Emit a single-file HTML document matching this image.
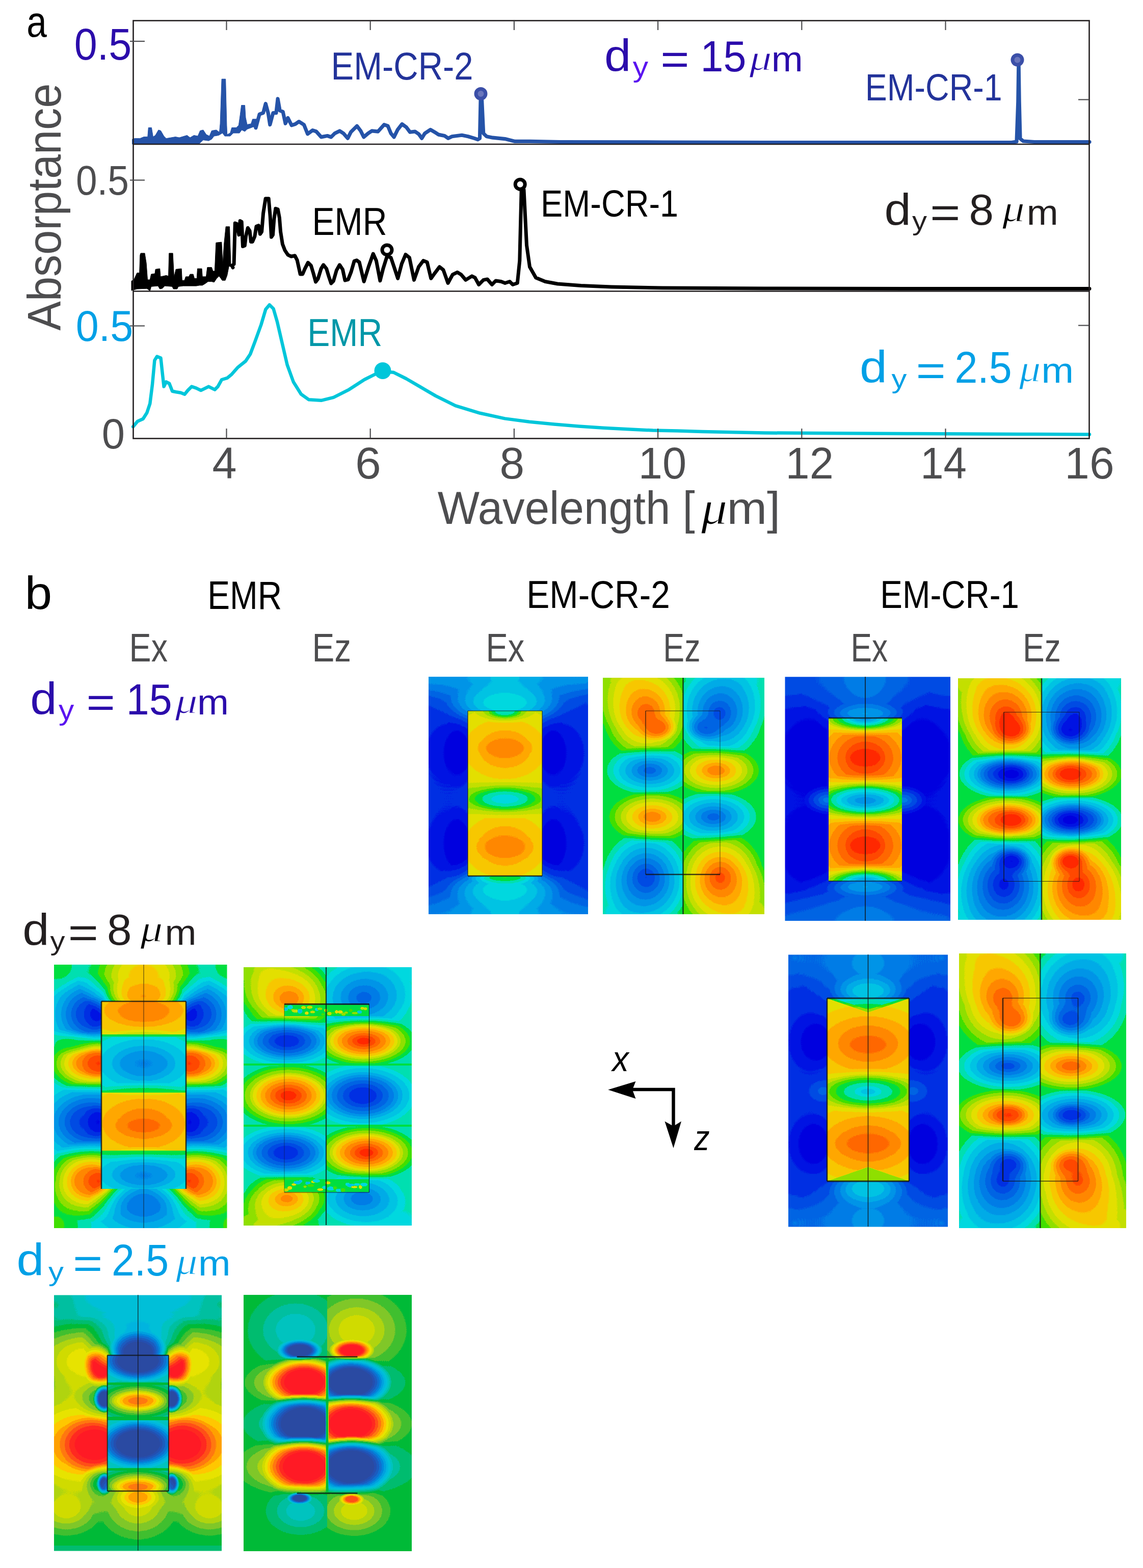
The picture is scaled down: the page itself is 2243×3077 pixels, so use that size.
<!DOCTYPE html>
<html><head><meta charset="utf-8"><style>html,body{margin:0;padding:0;background:#fff;overflow:hidden}svg{display:block}</style></head>
<body><svg width="2243" height="3077" viewBox="0 0 2243 3077">
<rect width="2243" height="3077" fill="#fff"/>
<polygon points="259.5,273.2 264.1,271.7 274.7,271.7 282.2,268.6 289.8,268.6 291.3,250.5 297.4,250.5 300.4,268.6 304.9,265.6 311.0,255.0 315.5,256.5 321.6,267.1 326.1,271.7 344.3,268.6 351.9,270.1 367.0,265.6 373.0,270.1 380.6,265.6 388.2,267.1 392.7,256.5 398.8,255.0 404.8,264.1 410.9,267.1 415.4,256.5 424.5,255.0 430.5,259.6 432.1,242.9 435.1,155.1 442.7,155.1 444.9,245.9 445.7,264.1 451.7,261.1 454.8,250.5 463.8,250.5 468.4,245.9 471.4,224.7 473.7,206.6 480.5,206.6 482.0,230.8 485.0,244.4 492.6,242.9 495.6,233.8 503.2,233.8 503.2,252.0 497.1,249.0 485.0,253.5 480.5,258.0 474.4,255.0 469.9,261.1 457.8,261.1 451.7,267.1 441.1,267.1 436.6,261.1 429.0,265.6 420.0,267.1 415.4,273.2 409.4,276.2 398.8,274.7 391.2,281.9 345.8,281.9 300.4,281.9 259.5,283.0" fill="#2553a8" stroke="#2553a8" stroke-width="1" stroke-linejoin="round"/>
<polyline points="502.0,250.8 509.2,224.1 516.5,221.7 521.3,203.5 526.2,221.7 529.8,244.7 535.9,221.7 541.9,221.7 545.1,193.8 549.2,216.9 555.2,219.3 560.1,242.3 564.9,231.4 572.2,245.9 579.5,243.5 586.7,238.6 596.4,244.7 603.7,262.9 613.4,255.6 620.6,258.0 630.3,268.9 642.4,266.5 649.7,269.0 656.9,261.7 666.6,256.9 673.9,261.7 682.4,271.4 688.4,259.3 700.5,247.2 707.8,256.9 713.8,269.0 722.3,261.7 729.6,256.9 741.7,258.1 753.8,244.7 761.1,247.2 767.1,261.7 773.2,269.0 780.4,254.4 788.9,243.5 797.4,249.6 804.6,259.3 814.3,258.1 821.6,262.9 827.7,271.4 833.7,261.7 844.6,254.4 853.1,259.3 860.3,264.1 872.4,266.5 879.7,271.4 887.0,267.7 896.7,266.5 906.3,265.3 918.5,267.7 930.6,271.4 937.8,273.8 941.5,271.4 943.1,196.3 945.6,196.3 948.7,261.7 954.8,267.7 966.9,270.2 991.1,272.6 1010.5,277.4 1040.0,277.4 1100.0,278.5 1300.0,279.0 1500.0,279.5 1700.0,279.5 1900.0,279.5 1985.0,279.5 1995.0,278.0 1997.8,200.0 1999.0,117.0 2000.2,200.0 2002.0,272.0 2008.0,277.0 2030.0,278.5 2138.0,278.5" fill="none" stroke="#2553a8" stroke-width="7.2" stroke-linejoin="round" stroke-linecap="round"/>
<polygon points="258.0,551.4 262.8,549.0 268.9,535.6 273.7,535.6 274.9,500.5 276.2,496.9 284.0,496.9 287.1,516.3 289.5,549.0 294.3,549.0 296.7,538.1 304.0,536.9 305.2,528.4 313.7,527.2 314.9,542.9 321.0,541.7 325.8,540.5 330.6,541.7 331.8,496.9 339.1,496.9 341.5,544.1 345.2,528.4 356.1,527.2 357.3,550.2 362.1,550.2 364.5,542.9 370.6,542.9 373.0,538.1 379.1,538.1 381.5,546.5 386.3,546.5 387.5,527.2 396.0,527.2 397.2,542.9 404.5,542.9 406.9,524.7 415.4,524.7 417.8,532.0 421.4,532.0 423.9,476.3 434.8,475.1 437.2,518.7 439.6,480.0 443.2,444.8 450.5,444.8 452.9,517.5 458.0,526.0 458.0,524.7 449.3,522.3 445.7,540.5 442.0,550.2 436.0,550.2 433.5,546.5 429.9,541.7 425.1,546.5 420.2,553.8 415.4,552.6 408.1,552.6 403.3,556.2 397.2,559.9 391.2,559.9 385.1,561.1 367.0,561.1 359.7,561.1 350.0,562.3 347.6,567.1 340.3,567.1 337.9,562.3 323.4,561.1 318.5,565.9 313.7,567.1 310.1,561.1 296.7,562.3 294.3,570.8 288.3,566.2 268.9,567.1 258.0,570.1" fill="#000" stroke="#000" stroke-width="1" stroke-linejoin="round"/>
<polyline points="457.0,525.0 455.3,521.3 459.1,518.3 461.3,438.1 465.1,439.6 468.9,460.8 471.2,433.6 474.2,435.1 476.5,483.5 480.3,482.0 482.5,463.8 486.3,447.2 490.1,453.2 492.4,474.4 495.4,474.4 499.9,463.8 503.0,444.2 507.5,442.6 510.5,459.3 513.6,454.7 516.6,418.4 521.1,389.7 527.2,389.7 530.2,424.5 532.5,465.3 535.5,460.8 537.8,430.5 540.8,409.3 545.3,410.9 548.4,427.5 550.6,454.7 554.4,479.0 559.0,491.1 565.0,500.1 571.1,503.2 578.6,501.7 583.2,510.7 589.2,538.0 593.8,538.0 598.3,527.4 604.4,515.3 610.4,521.3 615.0,536.5 619.5,553.1 624.0,547.1 630.1,527.4 634.6,519.8 640.7,527.4 645.2,542.5 649.8,556.1 654.3,551.6 660.4,530.4 666.4,519.8 672.5,528.9 677.0,550.1 683.1,548.6 689.1,533.4 695.2,512.3 700.0,510.7 705.1,514.6 714.2,552.5 723.2,523.7 732.3,498.0 738.4,511.6 745.9,550.9 752.0,526.7 759.6,502.5 767.1,505.5 773.2,523.7 780.7,546.4 788.3,517.7 795.9,499.5 803.4,505.5 812.5,549.4 821.6,523.7 830.7,511.6 838.2,514.6 845.8,546.4 853.4,535.8 862.5,523.7 870.0,529.8 879.1,555.5 888.2,538.8 897.3,534.3 904.8,538.8 913.9,549.4 926.0,541.9 932.1,544.9 939.6,558.5 948.7,549.4 956.3,547.9 965.4,558.5 972.9,550.9 983.5,552.5 991.1,555.5 1000.2,552.5 1006.2,558.5 1015.3,555.5 1019.8,511.6 1023.2,372.4 1028.0,372.4 1033.5,481.3 1039.5,523.7 1051.6,544.9 1069.8,552.5 1094.0,557.0 1140.0,560.6 1200.0,563.0 1300.0,565.0 1500.0,566.0 1800.0,566.5 2138.0,566.5" fill="none" stroke="#000" stroke-width="7" stroke-linejoin="round" stroke-linecap="round"/>
<polyline points="261.1,837.3 270.1,826.7 280.7,822.1 288.3,810.0 294.3,791.9 298.9,755.5 303.4,707.1 308.0,699.6 315.5,702.6 318.6,731.3 321.6,758.6 326.1,749.5 332.2,752.5 338.2,767.7 345.8,769.2 354.9,770.7 362.4,773.7 368.5,766.1 376.1,758.6 385.1,761.6 394.2,766.1 403.3,761.6 409.4,758.6 415.4,761.6 421.5,764.6 427.5,758.6 435.1,745.0 445.7,741.9 454.8,734.4 466.9,720.7 482.0,708.6 491.1,695.0 500.2,670.8 512.3,637.5 521.3,607.2 528.9,598.2 536.5,605.7 544.0,631.5 553.1,670.8 563.7,716.2 575.8,749.5 591.0,773.7 606.1,784.3 630.3,785.8 654.5,779.8 684.8,764.6 715.0,745.0 736.2,734.4 743.6,728.4 772.6,730.8 796.9,743.0 825.9,759.9 855.0,776.9 893.7,796.2 942.1,810.8 990.6,821.4 1039.0,827.7 1087.4,832.5 1135.8,836.4 1184.3,839.8 1232.7,842.2 1281.1,844.6 1329.5,845.6 1378.0,847.1 1426.4,848.0 1500.0,849.5 1600.0,850.0 1800.0,851.0 2000.0,852.0 2138.0,852.5" fill="none" stroke="#00c6da" stroke-width="6.5" stroke-linejoin="round" stroke-linecap="round"/>
<circle cx="943.5" cy="184.0" r="9.5" fill="#6a76bc" stroke="#3b4fa8" stroke-width="7"/>
<circle cx="1996.5" cy="117.5" r="9.5" fill="#6a76bc" stroke="#3b4fa8" stroke-width="7"/>
<circle cx="759.5" cy="490.4" r="9.5" fill="#fff" stroke="#000" stroke-width="7"/>
<circle cx="1020.7" cy="361.8" r="9.5" fill="#fff" stroke="#000" stroke-width="7"/>
<circle cx="751" cy="727.5" r="16.5" fill="#00c6da"/>
<g stroke="#231f20" stroke-width="2.6" fill="none">
<rect x="261.5" y="40.5" width="1876" height="820"/>
<line x1="261.5" y1="283" x2="2137.5" y2="283"/><line x1="261.5" y1="571.5" x2="2137.5" y2="571.5"/>
</g>
<g stroke="#4d4d4f" stroke-width="2.2">
<line x1="444.5" y1="41" x2="444.5" y2="59"/>
<line x1="444.5" y1="860" x2="444.5" y2="841"/>
<line x1="726.7" y1="41" x2="726.7" y2="59"/>
<line x1="726.7" y1="860" x2="726.7" y2="841"/>
<line x1="1008.9" y1="41" x2="1008.9" y2="59"/>
<line x1="1008.9" y1="860" x2="1008.9" y2="841"/>
<line x1="1291.1" y1="41" x2="1291.1" y2="59"/>
<line x1="1291.1" y1="860" x2="1291.1" y2="841"/>
<line x1="1573.3" y1="41" x2="1573.3" y2="59"/>
<line x1="1573.3" y1="860" x2="1573.3" y2="841"/>
<line x1="1855.5" y1="41" x2="1855.5" y2="59"/>
<line x1="1855.5" y1="860" x2="1855.5" y2="841"/>
<line x1="255" y1="81.0" x2="284" y2="81.0"/>
<line x1="255" y1="353.5" x2="284" y2="353.5"/>
<line x1="255" y1="639.5" x2="284" y2="639.5"/>
<line x1="2116" y1="195.5" x2="2137" y2="195.5"/>
<line x1="2116" y1="638.6" x2="2137" y2="638.6"/>
</g>
<text transform="translate(119 648.7) rotate(-90) scale(0.931 1)" font-family="Liberation Sans" font-size="92.8" fill="#4d4d4f">Absorptance</text>
<defs><filter id="cmA" color-interpolation-filters="sRGB" x="0" y="0" width="1" height="1"><feComponentTransfer><feFuncR type="discrete" tableValues="0.0000 0.0000 0.0000 0.0000 0.0000 0.0000 0.0000 0.0000 0.0000 0.0000 0.0000 0.0000 0.0000 0.2510 0.5647 0.7686 0.8941 0.9725 1.0000 1.0000 1.0000 1.0000 1.0000 0.9412"/><feFuncG type="discrete" tableValues="0.0000 0.0000 0.0784 0.1882 0.2980 0.3922 0.4863 0.5804 0.6745 0.7686 0.8471 0.8784 0.8706 0.8784 0.8784 0.8784 0.8784 0.7843 0.6588 0.5333 0.4078 0.2824 0.1569 0.0627"/><feFuncB type="discrete" tableValues="0.7843 0.8784 0.8941 0.8941 0.8941 0.8941 0.9020 0.9098 0.9098 0.8941 0.8784 0.6902 0.2510 0.0000 0.0000 0.0000 0.0000 0.0000 0.0000 0.0000 0.0000 0.0000 0.0000 0.0627"/></feComponentTransfer></filter><filter id="cmB" color-interpolation-filters="sRGB" x="0" y="0" width="1" height="1"><feComponentTransfer><feFuncR type="discrete" tableValues="0.1686 0.1686 0.1412 0.1098 0.0627 0.0000 0.0000 0.0000 0.0000 0.0000 0.0000 0.0000 0.0000 0.2510 0.5020 0.6902 0.8157 0.9098 1.0000 1.0000 1.0000 1.0000 1.0000 1.0000"/><feFuncG type="discrete" tableValues="0.2902 0.2902 0.3137 0.3608 0.4392 0.5333 0.6275 0.7059 0.7529 0.7686 0.7529 0.7373 0.7333 0.7529 0.7843 0.8314 0.8627 0.8941 0.7843 0.6275 0.4706 0.3137 0.1647 0.1020"/><feFuncB type="discrete" tableValues="0.6392 0.6392 0.6902 0.7529 0.8157 0.8627 0.8784 0.8784 0.8471 0.7529 0.6275 0.4392 0.2196 0.1882 0.1569 0.0627 0.0000 0.0000 0.0000 0.0000 0.0627 0.0941 0.1255 0.1451"/></feComponentTransfer></filter><radialGradient id="b80"><stop offset="0" stop-color="rgb(80,80,80)" stop-opacity="1"/><stop offset="0.12" stop-color="rgb(80,80,80)" stop-opacity="0.94"/><stop offset="1" stop-color="rgb(80,80,80)" stop-opacity="0"/></radialGradient><radialGradient id="b69"><stop offset="0" stop-color="rgb(69,69,69)" stop-opacity="1"/><stop offset="0.12" stop-color="rgb(69,69,69)" stop-opacity="0.94"/><stop offset="1" stop-color="rgb(69,69,69)" stop-opacity="0"/></radialGradient><radialGradient id="s27"><stop offset="0" stop-color="rgb(27,27,27)" stop-opacity="1"/><stop offset="0.3" stop-color="rgb(27,27,27)" stop-opacity="0.9"/><stop offset="0.7" stop-color="rgb(27,27,27)" stop-opacity="0.35"/><stop offset="1" stop-color="rgb(27,27,27)" stop-opacity="0"/></radialGradient><radialGradient id="s11"><stop offset="0" stop-color="rgb(11,11,11)" stop-opacity="1"/><stop offset="0.3" stop-color="rgb(11,11,11)" stop-opacity="0.9"/><stop offset="0.7" stop-color="rgb(11,11,11)" stop-opacity="0.35"/><stop offset="1" stop-color="rgb(11,11,11)" stop-opacity="0"/></radialGradient><radialGradient id="b101"><stop offset="0" stop-color="rgb(101,101,101)" stop-opacity="1"/><stop offset="0.12" stop-color="rgb(101,101,101)" stop-opacity="0.94"/><stop offset="1" stop-color="rgb(101,101,101)" stop-opacity="0"/></radialGradient><radialGradient id="s114"><stop offset="0" stop-color="rgb(114,114,114)" stop-opacity="1"/><stop offset="0.3" stop-color="rgb(114,114,114)" stop-opacity="0.9"/><stop offset="0.7" stop-color="rgb(114,114,114)" stop-opacity="0.35"/><stop offset="1" stop-color="rgb(114,114,114)" stop-opacity="0"/></radialGradient><radialGradient id="s139"><stop offset="0" stop-color="rgb(139,139,139)" stop-opacity="1"/><stop offset="0.3" stop-color="rgb(139,139,139)" stop-opacity="0.9"/><stop offset="0.7" stop-color="rgb(139,139,139)" stop-opacity="0.35"/><stop offset="1" stop-color="rgb(139,139,139)" stop-opacity="0"/></radialGradient><radialGradient id="s199"><stop offset="0" stop-color="rgb(199,199,199)" stop-opacity="1"/><stop offset="0.3" stop-color="rgb(199,199,199)" stop-opacity="0.9"/><stop offset="0.7" stop-color="rgb(199,199,199)" stop-opacity="0.35"/><stop offset="1" stop-color="rgb(199,199,199)" stop-opacity="0"/></radialGradient><radialGradient id="s210"><stop offset="0" stop-color="rgb(210,210,210)" stop-opacity="1"/><stop offset="0.3" stop-color="rgb(210,210,210)" stop-opacity="0.9"/><stop offset="0.7" stop-color="rgb(210,210,210)" stop-opacity="0.35"/><stop offset="1" stop-color="rgb(210,210,210)" stop-opacity="0"/></radialGradient><radialGradient id="s136"><stop offset="0" stop-color="rgb(136,136,136)" stop-opacity="1"/><stop offset="0.3" stop-color="rgb(136,136,136)" stop-opacity="0.9"/><stop offset="0.7" stop-color="rgb(136,136,136)" stop-opacity="0.35"/><stop offset="1" stop-color="rgb(136,136,136)" stop-opacity="0"/></radialGradient><radialGradient id="s112"><stop offset="0" stop-color="rgb(112,112,112)" stop-opacity="1"/><stop offset="0.3" stop-color="rgb(112,112,112)" stop-opacity="0.9"/><stop offset="0.7" stop-color="rgb(112,112,112)" stop-opacity="0.35"/><stop offset="1" stop-color="rgb(112,112,112)" stop-opacity="0"/></radialGradient><radialGradient id="s137"><stop offset="0" stop-color="rgb(137,137,137)" stop-opacity="1"/><stop offset="0.3" stop-color="rgb(137,137,137)" stop-opacity="0.9"/><stop offset="0.7" stop-color="rgb(137,137,137)" stop-opacity="0.35"/><stop offset="1" stop-color="rgb(137,137,137)" stop-opacity="0"/></radialGradient><radialGradient id="s117"><stop offset="0" stop-color="rgb(117,117,117)" stop-opacity="1"/><stop offset="0.3" stop-color="rgb(117,117,117)" stop-opacity="0.9"/><stop offset="0.7" stop-color="rgb(117,117,117)" stop-opacity="0.35"/><stop offset="1" stop-color="rgb(117,117,117)" stop-opacity="0"/></radialGradient><radialGradient id="b165"><stop offset="0" stop-color="rgb(165,165,165)" stop-opacity="1"/><stop offset="0.12" stop-color="rgb(165,165,165)" stop-opacity="0.94"/><stop offset="1" stop-color="rgb(165,165,165)" stop-opacity="0"/></radialGradient><radialGradient id="b112"><stop offset="0" stop-color="rgb(112,112,112)" stop-opacity="1"/><stop offset="0.12" stop-color="rgb(112,112,112)" stop-opacity="0.94"/><stop offset="1" stop-color="rgb(112,112,112)" stop-opacity="0"/></radialGradient><radialGradient id="b223"><stop offset="0" stop-color="rgb(223,223,223)" stop-opacity="1"/><stop offset="0.12" stop-color="rgb(223,223,223)" stop-opacity="0.94"/><stop offset="1" stop-color="rgb(223,223,223)" stop-opacity="0"/></radialGradient><radialGradient id="s223"><stop offset="0" stop-color="rgb(223,223,223)" stop-opacity="1"/><stop offset="0.3" stop-color="rgb(223,223,223)" stop-opacity="0.9"/><stop offset="0.7" stop-color="rgb(223,223,223)" stop-opacity="0.35"/><stop offset="1" stop-color="rgb(223,223,223)" stop-opacity="0"/></radialGradient><radialGradient id="b42"><stop offset="0" stop-color="rgb(42,42,42)" stop-opacity="1"/><stop offset="0.12" stop-color="rgb(42,42,42)" stop-opacity="0.94"/><stop offset="1" stop-color="rgb(42,42,42)" stop-opacity="0"/></radialGradient><radialGradient id="b58"><stop offset="0" stop-color="rgb(58,58,58)" stop-opacity="1"/><stop offset="0.12" stop-color="rgb(58,58,58)" stop-opacity="0.94"/><stop offset="1" stop-color="rgb(58,58,58)" stop-opacity="0"/></radialGradient><radialGradient id="b212"><stop offset="0" stop-color="rgb(212,212,212)" stop-opacity="1"/><stop offset="0.12" stop-color="rgb(212,212,212)" stop-opacity="0.94"/><stop offset="1" stop-color="rgb(212,212,212)" stop-opacity="0"/></radialGradient><radialGradient id="b170"><stop offset="0" stop-color="rgb(170,170,170)" stop-opacity="1"/><stop offset="0.12" stop-color="rgb(170,170,170)" stop-opacity="0.94"/><stop offset="1" stop-color="rgb(170,170,170)" stop-opacity="0"/></radialGradient><radialGradient id="b48"><stop offset="0" stop-color="rgb(48,48,48)" stop-opacity="1"/><stop offset="0.12" stop-color="rgb(48,48,48)" stop-opacity="0.94"/><stop offset="1" stop-color="rgb(48,48,48)" stop-opacity="0"/></radialGradient><radialGradient id="s53"><stop offset="0" stop-color="rgb(53,53,53)" stop-opacity="1"/><stop offset="0.3" stop-color="rgb(53,53,53)" stop-opacity="0.9"/><stop offset="0.7" stop-color="rgb(53,53,53)" stop-opacity="0.35"/><stop offset="1" stop-color="rgb(53,53,53)" stop-opacity="0"/></radialGradient><radialGradient id="b228"><stop offset="0" stop-color="rgb(228,228,228)" stop-opacity="1"/><stop offset="0.12" stop-color="rgb(228,228,228)" stop-opacity="0.94"/><stop offset="1" stop-color="rgb(228,228,228)" stop-opacity="0"/></radialGradient><radialGradient id="s18"><stop offset="0" stop-color="rgb(18,18,18)" stop-opacity="1"/><stop offset="0.3" stop-color="rgb(18,18,18)" stop-opacity="0.9"/><stop offset="0.7" stop-color="rgb(18,18,18)" stop-opacity="0.35"/><stop offset="1" stop-color="rgb(18,18,18)" stop-opacity="0"/></radialGradient><radialGradient id="b53"><stop offset="0" stop-color="rgb(53,53,53)" stop-opacity="1"/><stop offset="0.12" stop-color="rgb(53,53,53)" stop-opacity="0.94"/><stop offset="1" stop-color="rgb(53,53,53)" stop-opacity="0"/></radialGradient><radialGradient id="b74"><stop offset="0" stop-color="rgb(74,74,74)" stop-opacity="1"/><stop offset="0.12" stop-color="rgb(74,74,74)" stop-opacity="0.94"/><stop offset="1" stop-color="rgb(74,74,74)" stop-opacity="0"/></radialGradient><radialGradient id="s85"><stop offset="0" stop-color="rgb(85,85,85)" stop-opacity="1"/><stop offset="0.3" stop-color="rgb(85,85,85)" stop-opacity="0.9"/><stop offset="0.7" stop-color="rgb(85,85,85)" stop-opacity="0.35"/><stop offset="1" stop-color="rgb(85,85,85)" stop-opacity="0"/></radialGradient><radialGradient id="s234"><stop offset="0" stop-color="rgb(234,234,234)" stop-opacity="1"/><stop offset="0.3" stop-color="rgb(234,234,234)" stop-opacity="0.9"/><stop offset="0.7" stop-color="rgb(234,234,234)" stop-opacity="0.35"/><stop offset="1" stop-color="rgb(234,234,234)" stop-opacity="0"/></radialGradient><radialGradient id="s244"><stop offset="0" stop-color="rgb(244,244,244)" stop-opacity="1"/><stop offset="0.3" stop-color="rgb(244,244,244)" stop-opacity="0.9"/><stop offset="0.7" stop-color="rgb(244,244,244)" stop-opacity="0.35"/><stop offset="1" stop-color="rgb(244,244,244)" stop-opacity="0"/></radialGradient><radialGradient id="s96"><stop offset="0" stop-color="rgb(96,96,96)" stop-opacity="1"/><stop offset="0.3" stop-color="rgb(96,96,96)" stop-opacity="0.9"/><stop offset="0.7" stop-color="rgb(96,96,96)" stop-opacity="0.35"/><stop offset="1" stop-color="rgb(96,96,96)" stop-opacity="0"/></radialGradient><radialGradient id="s80"><stop offset="0" stop-color="rgb(80,80,80)" stop-opacity="1"/><stop offset="0.3" stop-color="rgb(80,80,80)" stop-opacity="0.9"/><stop offset="0.7" stop-color="rgb(80,80,80)" stop-opacity="0.35"/><stop offset="1" stop-color="rgb(80,80,80)" stop-opacity="0"/></radialGradient><radialGradient id="s106"><stop offset="0" stop-color="rgb(106,106,106)" stop-opacity="1"/><stop offset="0.3" stop-color="rgb(106,106,106)" stop-opacity="0.9"/><stop offset="0.7" stop-color="rgb(106,106,106)" stop-opacity="0.35"/><stop offset="1" stop-color="rgb(106,106,106)" stop-opacity="0"/></radialGradient><radialGradient id="b239"><stop offset="0" stop-color="rgb(239,239,239)" stop-opacity="1"/><stop offset="0.12" stop-color="rgb(239,239,239)" stop-opacity="0.94"/><stop offset="1" stop-color="rgb(239,239,239)" stop-opacity="0"/></radialGradient><radialGradient id="b27"><stop offset="0" stop-color="rgb(27,27,27)" stop-opacity="1"/><stop offset="0.12" stop-color="rgb(27,27,27)" stop-opacity="0.94"/><stop offset="1" stop-color="rgb(27,27,27)" stop-opacity="0"/></radialGradient><radialGradient id="s21"><stop offset="0" stop-color="rgb(21,21,21)" stop-opacity="1"/><stop offset="0.3" stop-color="rgb(21,21,21)" stop-opacity="0.9"/><stop offset="0.7" stop-color="rgb(21,21,21)" stop-opacity="0.35"/><stop offset="1" stop-color="rgb(21,21,21)" stop-opacity="0"/></radialGradient><radialGradient id="s37"><stop offset="0" stop-color="rgb(37,37,37)" stop-opacity="1"/><stop offset="0.3" stop-color="rgb(37,37,37)" stop-opacity="0.9"/><stop offset="0.7" stop-color="rgb(37,37,37)" stop-opacity="0.35"/><stop offset="1" stop-color="rgb(37,37,37)" stop-opacity="0"/></radialGradient><radialGradient id="s16"><stop offset="0" stop-color="rgb(16,16,16)" stop-opacity="1"/><stop offset="0.3" stop-color="rgb(16,16,16)" stop-opacity="0.9"/><stop offset="0.7" stop-color="rgb(16,16,16)" stop-opacity="0.35"/><stop offset="1" stop-color="rgb(16,16,16)" stop-opacity="0"/></radialGradient><radialGradient id="b175"><stop offset="0" stop-color="rgb(175,175,175)" stop-opacity="1"/><stop offset="0.12" stop-color="rgb(175,175,175)" stop-opacity="0.94"/><stop offset="1" stop-color="rgb(175,175,175)" stop-opacity="0"/></radialGradient><radialGradient id="b138"><stop offset="0" stop-color="rgb(138,138,138)" stop-opacity="1"/><stop offset="0.12" stop-color="rgb(138,138,138)" stop-opacity="0.94"/><stop offset="1" stop-color="rgb(138,138,138)" stop-opacity="0"/></radialGradient><radialGradient id="b143"><stop offset="0" stop-color="rgb(143,143,143)" stop-opacity="1"/><stop offset="0.12" stop-color="rgb(143,143,143)" stop-opacity="0.94"/><stop offset="1" stop-color="rgb(143,143,143)" stop-opacity="0"/></radialGradient><radialGradient id="s42"><stop offset="0" stop-color="rgb(42,42,42)" stop-opacity="1"/><stop offset="0.3" stop-color="rgb(42,42,42)" stop-opacity="0.9"/><stop offset="0.7" stop-color="rgb(42,42,42)" stop-opacity="0.35"/><stop offset="1" stop-color="rgb(42,42,42)" stop-opacity="0"/></radialGradient><radialGradient id="s218"><stop offset="0" stop-color="rgb(218,218,218)" stop-opacity="1"/><stop offset="0.3" stop-color="rgb(218,218,218)" stop-opacity="0.9"/><stop offset="0.7" stop-color="rgb(218,218,218)" stop-opacity="0.35"/><stop offset="1" stop-color="rgb(218,218,218)" stop-opacity="0"/></radialGradient><radialGradient id="b133"><stop offset="0" stop-color="rgb(133,133,133)" stop-opacity="1"/><stop offset="0.12" stop-color="rgb(133,133,133)" stop-opacity="0.94"/><stop offset="1" stop-color="rgb(133,133,133)" stop-opacity="0"/></radialGradient><radialGradient id="s186"><stop offset="0" stop-color="rgb(186,186,186)" stop-opacity="1"/><stop offset="0.3" stop-color="rgb(186,186,186)" stop-opacity="0.9"/><stop offset="0.7" stop-color="rgb(186,186,186)" stop-opacity="0.35"/><stop offset="1" stop-color="rgb(186,186,186)" stop-opacity="0"/></radialGradient><radialGradient id="s202"><stop offset="0" stop-color="rgb(202,202,202)" stop-opacity="1"/><stop offset="0.3" stop-color="rgb(202,202,202)" stop-opacity="0.9"/><stop offset="0.7" stop-color="rgb(202,202,202)" stop-opacity="0.35"/><stop offset="1" stop-color="rgb(202,202,202)" stop-opacity="0"/></radialGradient><radialGradient id="s69"><stop offset="0" stop-color="rgb(69,69,69)" stop-opacity="1"/><stop offset="0.3" stop-color="rgb(69,69,69)" stop-opacity="0.9"/><stop offset="0.7" stop-color="rgb(69,69,69)" stop-opacity="0.35"/><stop offset="1" stop-color="rgb(69,69,69)" stop-opacity="0"/></radialGradient><radialGradient id="s205"><stop offset="0" stop-color="rgb(205,205,205)" stop-opacity="1"/><stop offset="0.3" stop-color="rgb(205,205,205)" stop-opacity="0.9"/><stop offset="0.7" stop-color="rgb(205,205,205)" stop-opacity="0.35"/><stop offset="1" stop-color="rgb(205,205,205)" stop-opacity="0"/></radialGradient><radialGradient id="s74"><stop offset="0" stop-color="rgb(74,74,74)" stop-opacity="1"/><stop offset="0.3" stop-color="rgb(74,74,74)" stop-opacity="0.9"/><stop offset="0.7" stop-color="rgb(74,74,74)" stop-opacity="0.35"/><stop offset="1" stop-color="rgb(74,74,74)" stop-opacity="0"/></radialGradient><radialGradient id="s207"><stop offset="0" stop-color="rgb(207,207,207)" stop-opacity="1"/><stop offset="0.3" stop-color="rgb(207,207,207)" stop-opacity="0.9"/><stop offset="0.7" stop-color="rgb(207,207,207)" stop-opacity="0.35"/><stop offset="1" stop-color="rgb(207,207,207)" stop-opacity="0"/></radialGradient><radialGradient id="b207"><stop offset="0" stop-color="rgb(207,207,207)" stop-opacity="1"/><stop offset="0.12" stop-color="rgb(207,207,207)" stop-opacity="0.94"/><stop offset="1" stop-color="rgb(207,207,207)" stop-opacity="0"/></radialGradient><radialGradient id="b37"><stop offset="0" stop-color="rgb(37,37,37)" stop-opacity="1"/><stop offset="0.12" stop-color="rgb(37,37,37)" stop-opacity="0.94"/><stop offset="1" stop-color="rgb(37,37,37)" stop-opacity="0"/></radialGradient><radialGradient id="s48"><stop offset="0" stop-color="rgb(48,48,48)" stop-opacity="1"/><stop offset="0.3" stop-color="rgb(48,48,48)" stop-opacity="0.9"/><stop offset="0.7" stop-color="rgb(48,48,48)" stop-opacity="0.35"/><stop offset="1" stop-color="rgb(48,48,48)" stop-opacity="0"/></radialGradient><radialGradient id="s32"><stop offset="0" stop-color="rgb(32,32,32)" stop-opacity="1"/><stop offset="0.3" stop-color="rgb(32,32,32)" stop-opacity="0.9"/><stop offset="0.7" stop-color="rgb(32,32,32)" stop-opacity="0.35"/><stop offset="1" stop-color="rgb(32,32,32)" stop-opacity="0"/></radialGradient><radialGradient id="b234"><stop offset="0" stop-color="rgb(234,234,234)" stop-opacity="1"/><stop offset="0.12" stop-color="rgb(234,234,234)" stop-opacity="0.94"/><stop offset="1" stop-color="rgb(234,234,234)" stop-opacity="0"/></radialGradient><radialGradient id="s212"><stop offset="0" stop-color="rgb(212,212,212)" stop-opacity="1"/><stop offset="0.3" stop-color="rgb(212,212,212)" stop-opacity="0.9"/><stop offset="0.7" stop-color="rgb(212,212,212)" stop-opacity="0.35"/><stop offset="1" stop-color="rgb(212,212,212)" stop-opacity="0"/></radialGradient><radialGradient id="s239"><stop offset="0" stop-color="rgb(239,239,239)" stop-opacity="1"/><stop offset="0.3" stop-color="rgb(239,239,239)" stop-opacity="0.9"/><stop offset="0.7" stop-color="rgb(239,239,239)" stop-opacity="0.35"/><stop offset="1" stop-color="rgb(239,239,239)" stop-opacity="0"/></radialGradient><radialGradient id="b64"><stop offset="0" stop-color="rgb(64,64,64)" stop-opacity="1"/><stop offset="0.12" stop-color="rgb(64,64,64)" stop-opacity="0.94"/><stop offset="1" stop-color="rgb(64,64,64)" stop-opacity="0"/></radialGradient><radialGradient id="s101"><stop offset="0" stop-color="rgb(101,101,101)" stop-opacity="1"/><stop offset="0.3" stop-color="rgb(101,101,101)" stop-opacity="0.9"/><stop offset="0.7" stop-color="rgb(101,101,101)" stop-opacity="0.35"/><stop offset="1" stop-color="rgb(101,101,101)" stop-opacity="0"/></radialGradient><radialGradient id="s228"><stop offset="0" stop-color="rgb(228,228,228)" stop-opacity="1"/><stop offset="0.3" stop-color="rgb(228,228,228)" stop-opacity="0.9"/><stop offset="0.7" stop-color="rgb(228,228,228)" stop-opacity="0.35"/><stop offset="1" stop-color="rgb(228,228,228)" stop-opacity="0"/></radialGradient><radialGradient id="b90"><stop offset="0" stop-color="rgb(90,90,90)" stop-opacity="1"/><stop offset="0.12" stop-color="rgb(90,90,90)" stop-opacity="0.94"/><stop offset="1" stop-color="rgb(90,90,90)" stop-opacity="0"/></radialGradient><radialGradient id="b117"><stop offset="0" stop-color="rgb(117,117,117)" stop-opacity="1"/><stop offset="0.12" stop-color="rgb(117,117,117)" stop-opacity="0.94"/><stop offset="1" stop-color="rgb(117,117,117)" stop-opacity="0"/></radialGradient><radialGradient id="p250"><stop offset="0" stop-color="rgb(250,250,250)" stop-opacity="1"/><stop offset="0.45" stop-color="rgb(250,250,250)" stop-opacity="1"/><stop offset="0.75" stop-color="rgb(250,250,250)" stop-opacity="0.45"/><stop offset="1" stop-color="rgb(250,250,250)" stop-opacity="0"/></radialGradient><radialGradient id="p5"><stop offset="0" stop-color="rgb(5,5,5)" stop-opacity="1"/><stop offset="0.45" stop-color="rgb(5,5,5)" stop-opacity="1"/><stop offset="0.75" stop-color="rgb(5,5,5)" stop-opacity="0.45"/><stop offset="1" stop-color="rgb(5,5,5)" stop-opacity="0"/></radialGradient><radialGradient id="s122"><stop offset="0" stop-color="rgb(122,122,122)" stop-opacity="1"/><stop offset="0.3" stop-color="rgb(122,122,122)" stop-opacity="0.9"/><stop offset="0.7" stop-color="rgb(122,122,122)" stop-opacity="0.35"/><stop offset="1" stop-color="rgb(122,122,122)" stop-opacity="0"/></radialGradient><radialGradient id="s175"><stop offset="0" stop-color="rgb(175,175,175)" stop-opacity="1"/><stop offset="0.3" stop-color="rgb(175,175,175)" stop-opacity="0.9"/><stop offset="0.7" stop-color="rgb(175,175,175)" stop-opacity="0.35"/><stop offset="1" stop-color="rgb(175,175,175)" stop-opacity="0"/></radialGradient><radialGradient id="p16"><stop offset="0" stop-color="rgb(16,16,16)" stop-opacity="1"/><stop offset="0.45" stop-color="rgb(16,16,16)" stop-opacity="1"/><stop offset="0.75" stop-color="rgb(16,16,16)" stop-opacity="0.45"/><stop offset="1" stop-color="rgb(16,16,16)" stop-opacity="0"/></radialGradient><radialGradient id="p11"><stop offset="0" stop-color="rgb(11,11,11)" stop-opacity="1"/><stop offset="0.45" stop-color="rgb(11,11,11)" stop-opacity="1"/><stop offset="0.75" stop-color="rgb(11,11,11)" stop-opacity="0.45"/><stop offset="1" stop-color="rgb(11,11,11)" stop-opacity="0"/></radialGradient><radialGradient id="s191"><stop offset="0" stop-color="rgb(191,191,191)" stop-opacity="1"/><stop offset="0.3" stop-color="rgb(191,191,191)" stop-opacity="0.9"/><stop offset="0.7" stop-color="rgb(191,191,191)" stop-opacity="0.35"/><stop offset="1" stop-color="rgb(191,191,191)" stop-opacity="0"/></radialGradient><radialGradient id="p228"><stop offset="0" stop-color="rgb(228,228,228)" stop-opacity="1"/><stop offset="0.45" stop-color="rgb(228,228,228)" stop-opacity="1"/><stop offset="0.75" stop-color="rgb(228,228,228)" stop-opacity="0.45"/><stop offset="1" stop-color="rgb(228,228,228)" stop-opacity="0"/></radialGradient><clipPath id="c1"><rect x="841.0" y="1328.0" width="313.0" height="466.0"/></clipPath><clipPath id="c2"><rect x="918.0" y="1395.0" width="146.0" height="324.0"/></clipPath><clipPath id="c3"><rect x="1183.0" y="1330.0" width="317.0" height="464.0"/></clipPath><clipPath id="c4"><rect x="940.5" y="0.0" width="400.0" height="4000.0"/></clipPath><clipPath id="c5"><rect x="1340.5" y="0.0" width="400.0" height="4000.0"/></clipPath><clipPath id="c6"><rect x="1540.5" y="1328.3" width="324.5" height="478.7"/></clipPath><clipPath id="c7"><rect x="1626.0" y="1409.0" width="144.0" height="320.0"/></clipPath><clipPath id="c8"><rect x="1880.0" y="1331.5" width="320.0" height="473.5"/></clipPath><clipPath id="c9"><rect x="1644.0" y="0.0" width="400.0" height="4000.0"/></clipPath><clipPath id="c10"><rect x="2044.0" y="0.0" width="400.0" height="4000.0"/></clipPath><clipPath id="c11"><rect x="106.0" y="1893.0" width="339.5" height="517.0"/></clipPath><clipPath id="c12"><rect x="199.0" y="1965.0" width="166.0" height="368.0"/></clipPath><clipPath id="c13"><rect x="478.6" y="1898.6" width="329.1" height="505.8"/></clipPath><clipPath id="c14"><rect x="240.0" y="0.0" width="400.0" height="4000.0"/></clipPath><clipPath id="c15"><rect x="640.0" y="0.0" width="400.0" height="4000.0"/></clipPath><clipPath id="c16"><rect x="1547.0" y="1873.6" width="313.0" height="533.8"/></clipPath><clipPath id="c17"><rect x="1623.0" y="1959.0" width="161.0" height="359.0"/></clipPath><clipPath id="c18"><rect x="1882.0" y="1871.0" width="328.0" height="539.0"/></clipPath><clipPath id="c19"><rect x="1641.4" y="0.0" width="400.0" height="4000.0"/></clipPath><clipPath id="c20"><rect x="2041.4" y="0.0" width="400.0" height="4000.0"/></clipPath><clipPath id="c21"><rect x="106.0" y="2541.5" width="329.0" height="502.1"/></clipPath><clipPath id="c22"><rect x="210.7" y="2659.6" width="120.2" height="266.4"/></clipPath><clipPath id="c23"><rect x="478.6" y="2541.5" width="329.1" height="502.1"/></clipPath><clipPath id="c24"><rect x="242.0" y="0.0" width="400.0" height="4000.0"/></clipPath><clipPath id="c25"><rect x="642.0" y="0.0" width="400.0" height="4000.0"/></clipPath></defs><g clip-path="url(#c1)"><g filter="url(#cmA)"><rect x="839.0" y="1326.0" width="317.0" height="470.0" fill="rgb(48,48,48)"/><ellipse cx="845.0" cy="1328.0" rx="100.0" ry="45.0" fill="url(#b80)"/><ellipse cx="1137.0" cy="1328.0" rx="100.0" ry="45.0" fill="url(#b80)"/><ellipse cx="845.0" cy="1794.0" rx="100.0" ry="45.0" fill="url(#b69)"/><ellipse cx="1137.0" cy="1794.0" rx="100.0" ry="45.0" fill="url(#b69)"/><ellipse cx="880.0" cy="1478.0" rx="115.0" ry="150.0" fill="url(#s27)"/><ellipse cx="1102.0" cy="1478.0" rx="115.0" ry="150.0" fill="url(#s27)"/><ellipse cx="898.0" cy="1478.0" rx="40.0" ry="70.0" fill="url(#s11)"/><ellipse cx="1084.0" cy="1478.0" rx="40.0" ry="70.0" fill="url(#s11)"/><ellipse cx="880.0" cy="1655.0" rx="115.0" ry="150.0" fill="url(#s27)"/><ellipse cx="1102.0" cy="1655.0" rx="115.0" ry="150.0" fill="url(#s27)"/><ellipse cx="898.0" cy="1655.0" rx="40.0" ry="75.0" fill="url(#s11)"/><ellipse cx="1084.0" cy="1655.0" rx="40.0" ry="75.0" fill="url(#s11)"/><ellipse cx="991.0" cy="1330.0" rx="175.0" ry="115.0" fill="url(#b101)"/><ellipse cx="991.0" cy="1380.0" rx="115.0" ry="45.0" fill="url(#s114)"/><ellipse cx="991.0" cy="1790.0" rx="175.0" ry="115.0" fill="url(#b101)"/><ellipse cx="991.0" cy="1745.0" rx="115.0" ry="45.0" fill="url(#s114)"/><ellipse cx="991.0" cy="1722.0" rx="75.0" ry="14.0" fill="url(#s139)"/><g clip-path="url(#c2)"><rect x="913.0" y="1390.0" width="160.0" height="340.0" fill="rgb(165,165,165)"/><ellipse cx="991.0" cy="1470.0" rx="130.0" ry="95.0" fill="url(#s199)"/><ellipse cx="991.0" cy="1468.0" rx="55.0" ry="28.0" fill="url(#s210)"/><ellipse cx="991.0" cy="1660.0" rx="130.0" ry="100.0" fill="url(#s199)"/><ellipse cx="991.0" cy="1662.0" rx="60.0" ry="32.0" fill="url(#s210)"/><ellipse cx="991.0" cy="1568.0" rx="115.0" ry="40.0" fill="url(#s136)"/><ellipse cx="991.0" cy="1568.0" rx="75.0" ry="25.0" fill="url(#s112)"/><ellipse cx="991.0" cy="1396.0" rx="60.0" ry="24.0" fill="url(#s137)"/><ellipse cx="991.0" cy="1396.0" rx="35.0" ry="13.0" fill="url(#s117)"/></g></g></g><line x1="918.0" y1="1719.0" x2="1064.0" y2="1719.0" stroke="#111" stroke-width="2.4" stroke-opacity="0.8"/><line x1="918.0" y1="1395.0" x2="918.0" y2="1719.0" stroke="#111" stroke-width="1.2" stroke-opacity="0.8"/><line x1="1064.0" y1="1395.0" x2="1064.0" y2="1719.0" stroke="#111" stroke-width="1.2" stroke-opacity="0.8"/><line x1="918.0" y1="1395.0" x2="1064.0" y2="1395.0" stroke="#111" stroke-width="1.0" stroke-opacity="0.8"/>
<g clip-path="url(#c3)"><g filter="url(#cmA)"><rect x="1181.0" y="1328.0" width="321.0" height="468.0" fill="rgb(133,133,133)"/><g clip-path="url(#c4)"><rect x="940.5" y="1000.0" width="400.0" height="3000.0" fill="rgb(133,133,133)"/><ellipse cx="1230.0" cy="1335.0" rx="140.0" ry="95.0" fill="url(#b165)"/><ellipse cx="1225.0" cy="1790.0" rx="140.0" ry="95.0" fill="url(#b112)"/><ellipse cx="1268.0" cy="1400.0" rx="90.0" ry="95.0" fill="url(#b223)"/><ellipse cx="1290.0" cy="1428.0" rx="40.0" ry="28.0" fill="url(#s223)"/><ellipse cx="1268.0" cy="1722.0" rx="90.0" ry="95.0" fill="url(#b42)"/><ellipse cx="1275.0" cy="1512.0" rx="90.0" ry="50.0" fill="url(#b58)"/><ellipse cx="1280.0" cy="1603.0" rx="90.0" ry="52.0" fill="url(#b212)"/></g><g clip-path="url(#c5)"><rect x="1340.5" y="1000.0" width="400.0" height="3000.0" fill="rgb(133,133,133)"/><ellipse cx="1450.0" cy="1335.0" rx="140.0" ry="95.0" fill="url(#b112)"/><ellipse cx="1455.0" cy="1790.0" rx="140.0" ry="95.0" fill="url(#b170)"/><ellipse cx="1412.0" cy="1400.0" rx="90.0" ry="95.0" fill="url(#b48)"/><ellipse cx="1385.0" cy="1428.0" rx="40.0" ry="28.0" fill="url(#s53)"/><ellipse cx="1413.0" cy="1722.0" rx="90.0" ry="95.0" fill="url(#b228)"/><ellipse cx="1405.0" cy="1512.0" rx="90.0" ry="50.0" fill="url(#b212)"/><ellipse cx="1400.0" cy="1603.0" rx="90.0" ry="52.0" fill="url(#b58)"/></g></g></g><line x1="1340.5" y1="1330.0" x2="1340.5" y2="1794.0" stroke="#111" stroke-width="2.4" stroke-opacity="0.8"/><line x1="1267.0" y1="1716.0" x2="1413.0" y2="1716.0" stroke="#111" stroke-width="2.6" stroke-opacity="0.8"/><line x1="1267.0" y1="1395.0" x2="1267.0" y2="1716.0" stroke="#111" stroke-width="1.4" stroke-opacity="0.8"/><line x1="1413.0" y1="1395.0" x2="1413.0" y2="1716.0" stroke="#111" stroke-width="0.8" stroke-opacity="0.8"/><line x1="1267.0" y1="1395.0" x2="1413.0" y2="1395.0" stroke="#111" stroke-width="1.0" stroke-opacity="0.8"/>
<g clip-path="url(#c6)"><g filter="url(#cmA)"><rect x="1538.5" y="1326.3" width="328.5" height="482.7" fill="rgb(33,33,33)"/><ellipse cx="1585.0" cy="1485.0" rx="130.0" ry="150.0" fill="url(#s18)"/><ellipse cx="1811.0" cy="1485.0" rx="130.0" ry="150.0" fill="url(#s18)"/><ellipse cx="1594.0" cy="1485.0" rx="70.0" ry="85.0" fill="url(#s11)"/><ellipse cx="1802.0" cy="1485.0" rx="70.0" ry="85.0" fill="url(#s11)"/><ellipse cx="1585.0" cy="1660.0" rx="130.0" ry="150.0" fill="url(#s18)"/><ellipse cx="1811.0" cy="1660.0" rx="130.0" ry="150.0" fill="url(#s18)"/><ellipse cx="1592.0" cy="1660.0" rx="70.0" ry="85.0" fill="url(#s11)"/><ellipse cx="1804.0" cy="1660.0" rx="70.0" ry="85.0" fill="url(#s11)"/><ellipse cx="1623.0" cy="1570.0" rx="45.0" ry="28.0" fill="url(#b69)"/><ellipse cx="1773.0" cy="1570.0" rx="45.0" ry="28.0" fill="url(#b69)"/><ellipse cx="1545.0" cy="1330.0" rx="130.0" ry="70.0" fill="url(#b53)"/><ellipse cx="1861.0" cy="1330.0" rx="130.0" ry="70.0" fill="url(#b53)"/><ellipse cx="1545.0" cy="1805.0" rx="130.0" ry="60.0" fill="url(#b53)"/><ellipse cx="1861.0" cy="1805.0" rx="130.0" ry="60.0" fill="url(#b53)"/><ellipse cx="1698.0" cy="1330.0" rx="130.0" ry="130.0" fill="url(#b74)"/><ellipse cx="1698.0" cy="1400.0" rx="80.0" ry="22.0" fill="url(#s85)"/><ellipse cx="1698.0" cy="1815.0" rx="175.0" ry="120.0" fill="url(#b74)"/><ellipse cx="1698.0" cy="1740.0" rx="80.0" ry="22.0" fill="url(#s85)"/><g clip-path="url(#c7)"><rect x="1621.0" y="1404.0" width="160.0" height="340.0" fill="rgb(181,181,181)"/><ellipse cx="1698.0" cy="1487.0" rx="105.0" ry="85.0" fill="url(#s234)"/><ellipse cx="1698.0" cy="1487.0" rx="40.0" ry="22.0" fill="url(#s244)"/><ellipse cx="1698.0" cy="1659.0" rx="105.0" ry="85.0" fill="url(#s234)"/><ellipse cx="1698.0" cy="1659.0" rx="40.0" ry="22.0" fill="url(#s244)"/><ellipse cx="1698.0" cy="1570.0" rx="135.0" ry="52.0" fill="url(#s136)"/><ellipse cx="1698.0" cy="1570.0" rx="105.0" ry="38.0" fill="url(#s112)"/><ellipse cx="1698.0" cy="1570.0" rx="80.0" ry="28.0" fill="url(#s96)"/><ellipse cx="1698.0" cy="1571.0" rx="50.0" ry="16.0" fill="url(#s80)"/><ellipse cx="1698.0" cy="1408.0" rx="100.0" ry="38.0" fill="url(#s136)"/><ellipse cx="1698.0" cy="1408.0" rx="80.0" ry="28.0" fill="url(#s106)"/><ellipse cx="1698.0" cy="1408.0" rx="40.0" ry="14.0" fill="url(#s80)"/><ellipse cx="1698.0" cy="1731.0" rx="100.0" ry="38.0" fill="url(#s136)"/><ellipse cx="1698.0" cy="1731.0" rx="80.0" ry="28.0" fill="url(#s106)"/><ellipse cx="1698.0" cy="1731.0" rx="40.0" ry="14.0" fill="url(#s85)"/></g></g></g><line x1="1626.0" y1="1409.0" x2="1770.0" y2="1409.0" stroke="#111" stroke-width="2.6" stroke-opacity="0.8"/><line x1="1626.0" y1="1729.0" x2="1770.0" y2="1729.0" stroke="#111" stroke-width="1.6" stroke-opacity="0.8"/><line x1="1698.0" y1="1328.0" x2="1698.0" y2="1807.0" stroke="#111" stroke-width="1.8" stroke-opacity="0.8"/>
<g clip-path="url(#c8)"><g filter="url(#cmA)"><rect x="1878.0" y="1329.5" width="324.0" height="477.5" fill="rgb(133,133,133)"/><g clip-path="url(#c9)"><rect x="1644.0" y="1000.0" width="400.0" height="3000.0" fill="rgb(133,133,133)"/><ellipse cx="1925.0" cy="1335.0" rx="150.0" ry="110.0" fill="url(#b170)"/><ellipse cx="1920.0" cy="1800.0" rx="150.0" ry="110.0" fill="url(#b112)"/><ellipse cx="1975.0" cy="1410.0" rx="100.0" ry="105.0" fill="url(#b239)"/><ellipse cx="1985.0" cy="1432.0" rx="40.0" ry="30.0" fill="url(#s244)"/><ellipse cx="1970.0" cy="1735.0" rx="100.0" ry="115.0" fill="url(#b27)"/><ellipse cx="1985.0" cy="1690.0" rx="40.0" ry="30.0" fill="url(#s21)"/><ellipse cx="1978.0" cy="1519.0" rx="100.0" ry="50.0" fill="url(#b27)"/><ellipse cx="1980.0" cy="1519.0" rx="65.0" ry="33.0" fill="url(#s37)"/><ellipse cx="1985.0" cy="1519.0" rx="35.0" ry="20.0" fill="url(#s16)"/><ellipse cx="1976.0" cy="1609.0" rx="100.0" ry="50.0" fill="url(#b239)"/><ellipse cx="1980.0" cy="1609.0" rx="65.0" ry="33.0" fill="url(#s223)"/><ellipse cx="1985.0" cy="1609.0" rx="35.0" ry="20.0" fill="url(#s244)"/></g><g clip-path="url(#c10)"><rect x="2044.0" y="1000.0" width="400.0" height="3000.0" fill="rgb(133,133,133)"/><ellipse cx="2160.0" cy="1335.0" rx="150.0" ry="110.0" fill="url(#b112)"/><ellipse cx="2165.0" cy="1800.0" rx="150.0" ry="110.0" fill="url(#b175)"/><ellipse cx="2110.0" cy="1410.0" rx="100.0" ry="105.0" fill="url(#b27)"/><ellipse cx="2100.0" cy="1432.0" rx="40.0" ry="30.0" fill="url(#s21)"/><ellipse cx="2116.0" cy="1735.0" rx="100.0" ry="115.0" fill="url(#b239)"/><ellipse cx="2100.0" cy="1690.0" rx="40.0" ry="30.0" fill="url(#s244)"/><ellipse cx="2106.0" cy="1519.0" rx="100.0" ry="50.0" fill="url(#b239)"/><ellipse cx="2102.0" cy="1519.0" rx="65.0" ry="33.0" fill="url(#s223)"/><ellipse cx="2100.0" cy="1519.0" rx="35.0" ry="20.0" fill="url(#s244)"/><ellipse cx="2108.0" cy="1609.0" rx="100.0" ry="50.0" fill="url(#b27)"/><ellipse cx="2102.0" cy="1609.0" rx="65.0" ry="33.0" fill="url(#s37)"/><ellipse cx="2100.0" cy="1609.0" rx="35.0" ry="20.0" fill="url(#s16)"/></g></g></g><line x1="2044.0" y1="1331.0" x2="2044.0" y2="1805.0" stroke="#111" stroke-width="2.4" stroke-opacity="0.8"/><line x1="1970.0" y1="1397.5" x2="1970.0" y2="1729.5" stroke="#111" stroke-width="1.6" stroke-opacity="0.8"/><line x1="2118.0" y1="1397.5" x2="2118.0" y2="1729.5" stroke="#111" stroke-width="1.0" stroke-opacity="0.8"/><line x1="1970.0" y1="1397.5" x2="2118.0" y2="1397.5" stroke="#111" stroke-width="1.0" stroke-opacity="0.8"/><line x1="1970.0" y1="1729.5" x2="2118.0" y2="1729.5" stroke="#111" stroke-width="1.0" stroke-opacity="0.8"/>
<g clip-path="url(#c11)"><g filter="url(#cmA)"><rect x="104.0" y="1891.0" width="343.5" height="521.0" fill="rgb(112,112,112)"/><ellipse cx="110.0" cy="1895.0" rx="70.0" ry="60.0" fill="url(#b138)"/><ellipse cx="454.0" cy="1895.0" rx="70.0" ry="60.0" fill="url(#b138)"/><ellipse cx="110.0" cy="2405.0" rx="80.0" ry="90.0" fill="url(#b143)"/><ellipse cx="454.0" cy="2405.0" rx="80.0" ry="90.0" fill="url(#b143)"/><ellipse cx="180.0" cy="1990.0" rx="90.0" ry="80.0" fill="url(#s42)"/><ellipse cx="384.0" cy="1990.0" rx="90.0" ry="80.0" fill="url(#s42)"/><ellipse cx="190.0" cy="1990.0" rx="30.0" ry="35.0" fill="url(#s27)"/><ellipse cx="374.0" cy="1990.0" rx="30.0" ry="35.0" fill="url(#s27)"/><ellipse cx="185.0" cy="2087.0" rx="105.0" ry="62.0" fill="url(#s218)"/><ellipse cx="379.0" cy="2087.0" rx="105.0" ry="62.0" fill="url(#s218)"/><ellipse cx="193.0" cy="2087.0" rx="35.0" ry="30.0" fill="url(#s234)"/><ellipse cx="371.0" cy="2087.0" rx="35.0" ry="30.0" fill="url(#s234)"/><ellipse cx="180.0" cy="2202.0" rx="110.0" ry="80.0" fill="url(#s37)"/><ellipse cx="384.0" cy="2202.0" rx="110.0" ry="80.0" fill="url(#s37)"/><ellipse cx="192.0" cy="2202.0" rx="30.0" ry="35.0" fill="url(#s21)"/><ellipse cx="372.0" cy="2202.0" rx="30.0" ry="35.0" fill="url(#s21)"/><ellipse cx="180.0" cy="2318.0" rx="100.0" ry="80.0" fill="url(#s218)"/><ellipse cx="384.0" cy="2318.0" rx="100.0" ry="80.0" fill="url(#s218)"/><ellipse cx="193.0" cy="2318.0" rx="30.0" ry="30.0" fill="url(#s234)"/><ellipse cx="371.0" cy="2318.0" rx="30.0" ry="30.0" fill="url(#s234)"/><ellipse cx="130.0" cy="2045.0" rx="60.0" ry="25.0" fill="url(#b133)"/><ellipse cx="434.0" cy="2045.0" rx="60.0" ry="25.0" fill="url(#b133)"/><ellipse cx="282.0" cy="1915.0" rx="130.0" ry="100.0" fill="url(#s186)"/><ellipse cx="282.0" cy="1955.0" rx="80.0" ry="40.0" fill="url(#s202)"/><ellipse cx="282.0" cy="2365.0" rx="110.0" ry="70.0" fill="url(#s69)"/><g clip-path="url(#c12)"><rect x="194.0" y="1960.0" width="180.0" height="380.0" fill="rgb(122,122,122)"/><rect x="194.0" y="1960.0" width="180.0" height="72.0" fill="rgb(175,175,175)"/><rect x="194.0" y="2142.0" width="180.0" height="118.0" fill="rgb(175,175,175)"/><ellipse cx="282.0" cy="1983.0" rx="140.0" ry="58.0" fill="url(#s205)"/><ellipse cx="282.0" cy="1986.0" rx="60.0" ry="25.0" fill="url(#s210)"/><ellipse cx="282.0" cy="2087.0" rx="125.0" ry="70.0" fill="url(#s80)"/><ellipse cx="282.0" cy="2087.0" rx="60.0" ry="30.0" fill="url(#s74)"/><ellipse cx="282.0" cy="2205.0" rx="140.0" ry="85.0" fill="url(#s207)"/><ellipse cx="282.0" cy="2209.0" rx="60.0" ry="25.0" fill="url(#s218)"/><ellipse cx="282.0" cy="2305.0" rx="125.0" ry="55.0" fill="url(#s80)"/><ellipse cx="282.0" cy="2307.0" rx="60.0" ry="25.0" fill="url(#s74)"/><rect x="199.0" y="2030.0" width="170.0" height="4.0" fill="rgb(138,138,138)"/><rect x="199.0" y="2140.0" width="170.0" height="4.0" fill="rgb(138,138,138)"/><rect x="199.0" y="2258.0" width="170.0" height="4.0" fill="rgb(138,138,138)"/></g></g></g><line x1="199.0" y1="1965.0" x2="365.0" y2="1965.0" stroke="#111" stroke-width="2.6" stroke-opacity="0.8"/><line x1="199.0" y1="1965.0" x2="199.0" y2="2333.0" stroke="#111" stroke-width="2.6" stroke-opacity="0.8"/><line x1="365.0" y1="1965.0" x2="365.0" y2="2333.0" stroke="#111" stroke-width="2.6" stroke-opacity="0.8"/><line x1="282.0" y1="1893.0" x2="282.0" y2="2410.0" stroke="#111" stroke-width="1.0" stroke-opacity="0.8"/>
<g clip-path="url(#c13)"><g filter="url(#cmA)"><rect x="476.6" y="1896.6" width="333.1" height="509.8" fill="rgb(122,122,122)"/><g clip-path="url(#c14)"><rect x="240.0" y="1000.0" width="400.0" height="3000.0" fill="rgb(122,122,122)"/><ellipse cx="520.0" cy="1905.0" rx="120.0" ry="80.0" fill="url(#b165)"/><ellipse cx="520.0" cy="2405.0" rx="120.0" ry="70.0" fill="url(#b165)"/><ellipse cx="568.0" cy="1960.0" rx="100.0" ry="75.0" fill="url(#b212)"/><ellipse cx="563.0" cy="2352.0" rx="90.0" ry="55.0" fill="url(#b207)"/><ellipse cx="563.0" cy="2043.0" rx="105.0" ry="52.0" fill="url(#b37)"/><ellipse cx="563.0" cy="2043.0" rx="70.0" ry="35.0" fill="url(#s48)"/><ellipse cx="563.0" cy="2043.0" rx="35.0" ry="17.0" fill="url(#s32)"/><ellipse cx="566.0" cy="2150.0" rx="110.0" ry="65.0" fill="url(#b234)"/><ellipse cx="566.0" cy="2150.0" rx="75.0" ry="45.0" fill="url(#s212)"/><ellipse cx="566.0" cy="2150.0" rx="40.0" ry="24.0" fill="url(#s239)"/><ellipse cx="561.0" cy="2262.0" rx="105.0" ry="56.0" fill="url(#b37)"/><ellipse cx="561.0" cy="2262.0" rx="70.0" ry="38.0" fill="url(#s48)"/><ellipse cx="561.0" cy="2262.0" rx="35.0" ry="20.0" fill="url(#s32)"/></g><g clip-path="url(#c15)"><rect x="640.0" y="1000.0" width="400.0" height="3000.0" fill="rgb(122,122,122)"/><ellipse cx="760.0" cy="1905.0" rx="120.0" ry="80.0" fill="url(#b112)"/><ellipse cx="760.0" cy="2405.0" rx="120.0" ry="70.0" fill="url(#b112)"/><ellipse cx="714.0" cy="1958.0" rx="100.0" ry="75.0" fill="url(#b58)"/><ellipse cx="710.0" cy="2352.0" rx="90.0" ry="55.0" fill="url(#b64)"/><ellipse cx="714.0" cy="2043.0" rx="105.0" ry="52.0" fill="url(#b234)"/><ellipse cx="714.0" cy="2043.0" rx="70.0" ry="35.0" fill="url(#s212)"/><ellipse cx="714.0" cy="2043.0" rx="35.0" ry="17.0" fill="url(#s239)"/><ellipse cx="712.0" cy="2150.0" rx="110.0" ry="65.0" fill="url(#b37)"/><ellipse cx="712.0" cy="2150.0" rx="75.0" ry="45.0" fill="url(#s48)"/><ellipse cx="712.0" cy="2150.0" rx="40.0" ry="24.0" fill="url(#s32)"/><ellipse cx="719.0" cy="2262.0" rx="105.0" ry="56.0" fill="url(#b234)"/><ellipse cx="719.0" cy="2262.0" rx="70.0" ry="38.0" fill="url(#s212)"/><ellipse cx="719.0" cy="2262.0" rx="35.0" ry="20.0" fill="url(#s239)"/></g><rect x="478.0" y="2087.0" width="330.0" height="4.0" fill="rgb(138,138,138)"/><rect x="478.0" y="2207.0" width="330.0" height="4.0" fill="rgb(138,138,138)"/><rect x="558.0" y="1972.0" width="166.5" height="22.0" fill="rgb(128,128,128)"/><rect x="558.0" y="2314.0" width="166.5" height="25.0" fill="rgb(128,128,128)"/><ellipse cx="561.0" cy="1980.2" rx="3.6" ry="3.3" fill="rgb(101,101,101)"/><ellipse cx="569.3" cy="1976.5" rx="5.3" ry="3.8" fill="rgb(112,112,112)"/><ellipse cx="574.4" cy="1981.9" rx="3.3" ry="2.2" fill="rgb(154,154,154)"/><ellipse cx="579.7" cy="1984.0" rx="6.8" ry="3.3" fill="rgb(165,165,165)"/><ellipse cx="588.5" cy="1984.2" rx="4.6" ry="4.0" fill="rgb(101,101,101)"/><ellipse cx="595.7" cy="1977.1" rx="4.7" ry="3.1" fill="rgb(165,165,165)"/><ellipse cx="601.9" cy="1988.1" rx="3.7" ry="3.2" fill="rgb(175,175,175)"/><ellipse cx="607.7" cy="1976.6" rx="5.8" ry="3.1" fill="rgb(165,165,165)"/><ellipse cx="613.5" cy="1985.9" rx="4.7" ry="2.6" fill="rgb(165,165,165)"/><ellipse cx="622.2" cy="1980.8" rx="4.0" ry="2.4" fill="rgb(112,112,112)"/><ellipse cx="627.5" cy="1979.8" rx="5.0" ry="2.7" fill="rgb(154,154,154)"/><ellipse cx="633.7" cy="1990.7" rx="3.5" ry="2.8" fill="rgb(143,143,143)"/><ellipse cx="639.3" cy="1982.8" rx="3.2" ry="3.3" fill="rgb(165,165,165)"/><ellipse cx="646.6" cy="1989.0" rx="4.3" ry="3.4" fill="rgb(165,165,165)"/><ellipse cx="653.6" cy="1987.8" rx="3.3" ry="2.2" fill="rgb(143,143,143)"/><ellipse cx="660.5" cy="1985.6" rx="3.2" ry="3.4" fill="rgb(175,175,175)"/><ellipse cx="667.8" cy="1985.9" rx="4.8" ry="3.4" fill="rgb(175,175,175)"/><ellipse cx="674.2" cy="1990.1" rx="4.4" ry="3.2" fill="rgb(154,154,154)"/><ellipse cx="679.4" cy="1987.3" rx="3.5" ry="2.5" fill="rgb(154,154,154)"/><ellipse cx="688.1" cy="1982.9" rx="3.7" ry="2.8" fill="rgb(143,143,143)"/><ellipse cx="696.6" cy="1988.1" rx="6.5" ry="2.6" fill="rgb(154,154,154)"/><ellipse cx="705.5" cy="1985.9" rx="4.5" ry="2.5" fill="rgb(101,101,101)"/><ellipse cx="711.2" cy="1978.7" rx="3.9" ry="3.0" fill="rgb(165,165,165)"/><ellipse cx="717.0" cy="1979.5" rx="3.6" ry="3.1" fill="rgb(165,165,165)"/><ellipse cx="561.0" cy="2335.1" rx="5.8" ry="3.0" fill="rgb(165,165,165)"/><ellipse cx="568.6" cy="2331.1" rx="4.8" ry="3.7" fill="rgb(175,175,175)"/><ellipse cx="576.8" cy="2324.5" rx="4.6" ry="2.2" fill="rgb(175,175,175)"/><ellipse cx="583.4" cy="2320.6" rx="6.9" ry="2.9" fill="rgb(101,101,101)"/><ellipse cx="589.8" cy="2318.0" rx="3.0" ry="2.3" fill="rgb(101,101,101)"/><ellipse cx="598.6" cy="2328.7" rx="3.3" ry="2.4" fill="rgb(154,154,154)"/><ellipse cx="604.2" cy="2321.8" rx="4.4" ry="2.7" fill="rgb(101,101,101)"/><ellipse cx="609.6" cy="2326.3" rx="6.9" ry="3.0" fill="rgb(143,143,143)"/><ellipse cx="615.0" cy="2318.9" rx="4.4" ry="2.5" fill="rgb(175,175,175)"/><ellipse cx="620.6" cy="2317.4" rx="6.8" ry="3.1" fill="rgb(112,112,112)"/><ellipse cx="628.4" cy="2334.4" rx="6.0" ry="2.6" fill="rgb(175,175,175)"/><ellipse cx="636.8" cy="2330.2" rx="4.0" ry="2.7" fill="rgb(112,112,112)"/><ellipse cx="643.3" cy="2321.2" rx="5.2" ry="3.0" fill="rgb(175,175,175)"/><ellipse cx="649.1" cy="2332.4" rx="6.9" ry="3.7" fill="rgb(112,112,112)"/><ellipse cx="657.4" cy="2331.1" rx="3.9" ry="3.0" fill="rgb(143,143,143)"/><ellipse cx="665.3" cy="2335.8" rx="6.2" ry="2.9" fill="rgb(112,112,112)"/><ellipse cx="673.1" cy="2335.2" rx="4.8" ry="3.9" fill="rgb(143,143,143)"/><ellipse cx="681.9" cy="2323.9" rx="3.9" ry="2.5" fill="rgb(112,112,112)"/><ellipse cx="688.3" cy="2326.2" rx="6.9" ry="3.2" fill="rgb(101,101,101)"/><ellipse cx="695.2" cy="2329.4" rx="6.2" ry="2.2" fill="rgb(175,175,175)"/><ellipse cx="700.7" cy="2324.4" rx="5.8" ry="2.4" fill="rgb(112,112,112)"/><ellipse cx="707.4" cy="2329.1" rx="3.3" ry="3.9" fill="rgb(175,175,175)"/><ellipse cx="714.0" cy="2324.6" rx="6.8" ry="3.4" fill="rgb(112,112,112)"/></g></g><line x1="558.0" y1="1970.5" x2="724.5" y2="1970.5" stroke="#111" stroke-width="3.2" stroke-opacity="0.8"/><line x1="640.0" y1="1898.0" x2="640.0" y2="2404.0" stroke="#111" stroke-width="2.2" stroke-opacity="0.8"/><line x1="724.5" y1="1970.5" x2="724.5" y2="2340.0" stroke="#111" stroke-width="1.2" stroke-opacity="0.8"/><line x1="558.0" y1="1970.5" x2="558.0" y2="2340.0" stroke="#111" stroke-width="0.6" stroke-opacity="0.8"/><line x1="558.0" y1="2340.0" x2="724.5" y2="2340.0" stroke="#111" stroke-width="1.0" stroke-opacity="0.8"/>
<g clip-path="url(#c16)"><g filter="url(#cmA)"><rect x="1545.0" y="1871.6" width="317.0" height="537.8" fill="rgb(48,48,48)"/><ellipse cx="1560.0" cy="1880.0" rx="80.0" ry="60.0" fill="url(#b64)"/><ellipse cx="1847.0" cy="1880.0" rx="80.0" ry="60.0" fill="url(#b64)"/><ellipse cx="1560.0" cy="2400.0" rx="80.0" ry="60.0" fill="url(#b64)"/><ellipse cx="1847.0" cy="2400.0" rx="80.0" ry="60.0" fill="url(#b64)"/><ellipse cx="1590.0" cy="2045.0" rx="110.0" ry="150.0" fill="url(#s27)"/><ellipse cx="1817.0" cy="2045.0" rx="110.0" ry="150.0" fill="url(#s27)"/><ellipse cx="1602.0" cy="2045.0" rx="45.0" ry="55.0" fill="url(#s11)"/><ellipse cx="1805.0" cy="2045.0" rx="45.0" ry="55.0" fill="url(#s11)"/><ellipse cx="1590.0" cy="2245.0" rx="110.0" ry="150.0" fill="url(#s27)"/><ellipse cx="1817.0" cy="2245.0" rx="110.0" ry="150.0" fill="url(#s27)"/><ellipse cx="1597.0" cy="2245.0" rx="45.0" ry="60.0" fill="url(#s11)"/><ellipse cx="1810.0" cy="2245.0" rx="45.0" ry="60.0" fill="url(#s11)"/><ellipse cx="1615.0" cy="2141.0" rx="40.0" ry="30.0" fill="url(#b58)"/><ellipse cx="1792.0" cy="2141.0" rx="40.0" ry="30.0" fill="url(#b58)"/><ellipse cx="1703.5" cy="1890.0" rx="140.0" ry="110.0" fill="url(#b80)"/><ellipse cx="1703.5" cy="1945.0" rx="75.0" ry="35.0" fill="url(#s106)"/><ellipse cx="1703.5" cy="2395.0" rx="140.0" ry="110.0" fill="url(#b80)"/><ellipse cx="1703.5" cy="2332.0" rx="80.0" ry="40.0" fill="url(#s106)"/><g clip-path="url(#c17)"><rect x="1618.0" y="1954.0" width="180.0" height="380.0" fill="rgb(175,175,175)"/><polygon points="1623.0,1959.0 1784.0,1959.0 1703.5,1987.0" fill="rgb(133,133,133)"/><polygon points="1635.0,1959.0 1772.0,1959.0 1703.5,1981.0" fill="rgb(115,115,115)"/><ellipse cx="1703.5" cy="2048.0" rx="145.0" ry="88.0" fill="url(#s210)"/><ellipse cx="1703.5" cy="2050.0" rx="60.0" ry="28.0" fill="url(#s218)"/><ellipse cx="1703.5" cy="2244.0" rx="145.0" ry="88.0" fill="url(#s210)"/><ellipse cx="1703.5" cy="2244.0" rx="70.0" ry="32.0" fill="url(#s218)"/><ellipse cx="1703.5" cy="2142.0" rx="118.0" ry="46.0" fill="url(#s136)"/><ellipse cx="1703.5" cy="2142.0" rx="95.0" ry="35.0" fill="url(#s117)"/><ellipse cx="1703.5" cy="2142.0" rx="30.0" ry="12.0" fill="url(#s101)"/><polygon points="1623.0,2318.0 1784.0,2318.0 1703.5,2290.0" fill="rgb(154,154,154)"/></g></g></g><line x1="1623.0" y1="1959.0" x2="1784.0" y2="1959.0" stroke="#111" stroke-width="2.8" stroke-opacity="0.8"/><line x1="1623.0" y1="2318.0" x2="1784.0" y2="2318.0" stroke="#111" stroke-width="2.8" stroke-opacity="0.8"/><line x1="1623.0" y1="1959.0" x2="1623.0" y2="2318.0" stroke="#111" stroke-width="2.6" stroke-opacity="0.8"/><line x1="1784.0" y1="1959.0" x2="1784.0" y2="2318.0" stroke="#111" stroke-width="2.6" stroke-opacity="0.8"/><line x1="1703.5" y1="1873.0" x2="1703.5" y2="2407.0" stroke="#111" stroke-width="1.6" stroke-opacity="0.8"/>
<g clip-path="url(#c18)"><g filter="url(#cmA)"><rect x="1880.0" y="1869.0" width="332.0" height="543.0" fill="rgb(133,133,133)"/><g clip-path="url(#c19)"><rect x="1641.4" y="1000.0" width="400.0" height="3000.0" fill="rgb(133,133,133)"/><ellipse cx="1925.0" cy="1875.0" rx="150.0" ry="100.0" fill="url(#b175)"/><ellipse cx="1920.0" cy="2405.0" rx="150.0" ry="100.0" fill="url(#b112)"/><ellipse cx="1968.0" cy="1960.0" rx="105.0" ry="110.0" fill="url(#b223)"/><ellipse cx="1985.0" cy="2000.0" rx="45.0" ry="35.0" fill="url(#s223)"/><ellipse cx="1968.0" cy="2315.0" rx="105.0" ry="115.0" fill="url(#b37)"/><ellipse cx="1980.0" cy="2285.0" rx="40.0" ry="30.0" fill="url(#s37)"/><ellipse cx="1978.0" cy="2092.0" rx="105.0" ry="50.0" fill="url(#b48)"/><ellipse cx="1973.0" cy="2188.0" rx="105.0" ry="52.0" fill="url(#b228)"/><ellipse cx="1980.0" cy="2188.0" rx="35.0" ry="22.0" fill="url(#s234)"/></g><g clip-path="url(#c20)"><rect x="2041.4" y="1000.0" width="400.0" height="3000.0" fill="rgb(133,133,133)"/><ellipse cx="2165.0" cy="1875.0" rx="150.0" ry="100.0" fill="url(#b112)"/><ellipse cx="2170.0" cy="2405.0" rx="150.0" ry="100.0" fill="url(#b175)"/><ellipse cx="2115.0" cy="1960.0" rx="105.0" ry="110.0" fill="url(#b48)"/><ellipse cx="2100.0" cy="2000.0" rx="45.0" ry="35.0" fill="url(#s48)"/><ellipse cx="2115.0" cy="2315.0" rx="105.0" ry="115.0" fill="url(#b228)"/><ellipse cx="2100.0" cy="2285.0" rx="40.0" ry="30.0" fill="url(#s228)"/><ellipse cx="2102.0" cy="2092.0" rx="105.0" ry="50.0" fill="url(#b223)"/><ellipse cx="2109.0" cy="2188.0" rx="105.0" ry="52.0" fill="url(#b42)"/><ellipse cx="2100.0" cy="2188.0" rx="35.0" ry="22.0" fill="url(#s37)"/></g></g></g><line x1="2041.4" y1="1871.0" x2="2041.4" y2="2410.0" stroke="#111" stroke-width="2.2" stroke-opacity="0.8"/><line x1="1968.0" y1="1958.6" x2="1968.0" y2="2317.8" stroke="#111" stroke-width="2.4" stroke-opacity="0.8"/><line x1="2115.5" y1="1958.6" x2="2115.5" y2="2317.8" stroke="#111" stroke-width="1.4" stroke-opacity="0.8"/><line x1="1968.0" y1="1958.6" x2="2115.5" y2="1958.6" stroke="#111" stroke-width="1.2" stroke-opacity="0.8"/><line x1="1968.0" y1="2317.8" x2="2115.5" y2="2317.8" stroke="#111" stroke-width="1.6" stroke-opacity="0.8"/>
<g clip-path="url(#c21)"><g filter="url(#cmB)"><rect x="104.0" y="2539.5" width="333.0" height="506.1" fill="rgb(133,133,133)"/><ellipse cx="270.8" cy="2545.0" rx="330.0" ry="110.0" fill="url(#b90)"/><ellipse cx="270.8" cy="2545.0" rx="200.0" ry="70.0" fill="url(#b90)"/><ellipse cx="270.8" cy="2600.0" rx="90.0" ry="80.0" fill="url(#b90)"/><ellipse cx="108.0" cy="2560.0" rx="60.0" ry="50.0" fill="url(#b117)"/><ellipse cx="433.6" cy="2560.0" rx="60.0" ry="50.0" fill="url(#b117)"/><ellipse cx="170.0" cy="2672.0" rx="130.0" ry="90.0" fill="url(#s186)"/><ellipse cx="371.6" cy="2672.0" rx="130.0" ry="90.0" fill="url(#s186)"/><ellipse cx="199.0" cy="2680.0" rx="35.0" ry="45.0" fill="url(#p250)"/><ellipse cx="342.6" cy="2680.0" rx="35.0" ry="45.0" fill="url(#p250)"/><ellipse cx="160.0" cy="2835.0" rx="175.0" ry="140.0" fill="url(#s212)"/><ellipse cx="381.6" cy="2835.0" rx="175.0" ry="140.0" fill="url(#s212)"/><ellipse cx="186.0" cy="2835.0" rx="75.0" ry="58.0" fill="url(#p250)"/><ellipse cx="355.6" cy="2835.0" rx="75.0" ry="58.0" fill="url(#p250)"/><ellipse cx="203.0" cy="2745.0" rx="60.0" ry="42.0" fill="url(#s136)"/><ellipse cx="338.6" cy="2745.0" rx="60.0" ry="42.0" fill="url(#s136)"/><ellipse cx="205.0" cy="2745.0" rx="22.0" ry="28.0" fill="url(#p5)"/><ellipse cx="336.6" cy="2745.0" rx="22.0" ry="28.0" fill="url(#p5)"/><ellipse cx="203.0" cy="2912.0" rx="45.0" ry="40.0" fill="url(#s122)"/><ellipse cx="338.6" cy="2912.0" rx="45.0" ry="40.0" fill="url(#s122)"/><ellipse cx="205.0" cy="2912.0" rx="15.0" ry="22.0" fill="url(#p5)"/><ellipse cx="336.6" cy="2912.0" rx="15.0" ry="22.0" fill="url(#p5)"/><ellipse cx="130.0" cy="2960.0" rx="80.0" ry="60.0" fill="url(#s175)"/><ellipse cx="411.6" cy="2960.0" rx="80.0" ry="60.0" fill="url(#s175)"/><ellipse cx="270.8" cy="2630.0" rx="110.0" ry="70.0" fill="url(#s80)"/><ellipse cx="270.8" cy="2655.0" rx="60.0" ry="45.0" fill="url(#p16)"/><ellipse cx="270.8" cy="2950.0" rx="90.0" ry="80.0" fill="url(#s175)"/><ellipse cx="270.8" cy="2938.0" rx="45.0" ry="25.0" fill="url(#s212)"/><rect x="100.0" y="3033.0" width="340.0" height="20.0" fill="rgb(122,122,122)"/><g clip-path="url(#c22)"><rect x="205.7" y="2654.6" width="140.0" height="290.0" fill="rgb(106,106,106)"/><ellipse cx="270.8" cy="2670.0" rx="80.0" ry="45.0" fill="url(#p11)"/><ellipse cx="270.8" cy="2749.0" rx="95.0" ry="42.0" fill="url(#s191)"/><ellipse cx="270.8" cy="2749.0" rx="55.0" ry="20.0" fill="url(#s218)"/><ellipse cx="270.8" cy="2833.0" rx="85.0" ry="52.0" fill="url(#p11)"/><ellipse cx="270.8" cy="2915.0" rx="95.0" ry="38.0" fill="url(#s191)"/><ellipse cx="270.8" cy="2918.0" rx="55.0" ry="18.0" fill="url(#s218)"/><rect x="210.7" y="2713.0" width="130.0" height="5.0" fill="rgb(136,136,136)"/><rect x="210.7" y="2780.0" width="130.0" height="7.0" fill="rgb(136,136,136)"/><rect x="210.7" y="2881.0" width="130.0" height="5.0" fill="rgb(136,136,136)"/></g></g></g><line x1="210.7" y1="2659.6" x2="330.9" y2="2659.6" stroke="#111" stroke-width="2.4" stroke-opacity="0.8"/><line x1="210.7" y1="2926.0" x2="330.9" y2="2926.0" stroke="#111" stroke-width="2.4" stroke-opacity="0.8"/><line x1="210.7" y1="2659.6" x2="210.7" y2="2926.0" stroke="#111" stroke-width="2.0" stroke-opacity="0.8"/><line x1="330.9" y1="2659.6" x2="330.9" y2="2926.0" stroke="#111" stroke-width="2.0" stroke-opacity="0.8"/><line x1="270.8" y1="2541.0" x2="270.8" y2="3043.0" stroke="#111" stroke-width="1.4" stroke-opacity="0.8"/>
<g clip-path="url(#c23)"><g filter="url(#cmB)"><rect x="476.6" y="2539.5" width="333.1" height="506.1" fill="rgb(133,133,133)"/><g clip-path="url(#c24)"><rect x="242.0" y="1000.0" width="400.0" height="3000.0" fill="rgb(133,133,133)"/><ellipse cx="580.0" cy="2610.0" rx="110.0" ry="90.0" fill="url(#s101)"/><ellipse cx="588.0" cy="2650.0" rx="45.0" ry="22.0" fill="url(#p11)"/><ellipse cx="585.0" cy="2713.0" rx="115.0" ry="52.0" fill="url(#s186)"/><ellipse cx="597.0" cy="2712.0" rx="80.0" ry="52.0" fill="url(#p250)"/><ellipse cx="590.0" cy="2794.0" rx="130.0" ry="58.0" fill="url(#s96)"/><ellipse cx="597.0" cy="2794.0" rx="85.0" ry="60.0" fill="url(#p5)"/><ellipse cx="585.0" cy="2878.0" rx="135.0" ry="62.0" fill="url(#s186)"/><ellipse cx="597.0" cy="2878.0" rx="85.0" ry="60.0" fill="url(#p250)"/><ellipse cx="590.0" cy="2965.0" rx="80.0" ry="55.0" fill="url(#s101)"/><ellipse cx="588.0" cy="2940.0" rx="25.0" ry="12.0" fill="url(#p11)"/></g><g clip-path="url(#c25)"><rect x="642.0" y="1000.0" width="400.0" height="3000.0" fill="rgb(133,133,133)"/><ellipse cx="700.0" cy="2610.0" rx="110.0" ry="90.0" fill="url(#s175)"/><ellipse cx="690.0" cy="2650.0" rx="45.0" ry="22.0" fill="url(#p250)"/><ellipse cx="695.0" cy="2713.0" rx="115.0" ry="52.0" fill="url(#s96)"/><ellipse cx="688.0" cy="2712.0" rx="80.0" ry="52.0" fill="url(#p5)"/><ellipse cx="690.0" cy="2794.0" rx="130.0" ry="58.0" fill="url(#s186)"/><ellipse cx="688.0" cy="2794.0" rx="85.0" ry="60.0" fill="url(#p250)"/><ellipse cx="700.0" cy="2878.0" rx="135.0" ry="62.0" fill="url(#s96)"/><ellipse cx="688.0" cy="2878.0" rx="85.0" ry="60.0" fill="url(#p5)"/><ellipse cx="695.0" cy="2965.0" rx="80.0" ry="55.0" fill="url(#s175)"/><ellipse cx="690.0" cy="2942.0" rx="25.0" ry="12.0" fill="url(#p228)"/></g><rect x="639.5" y="2665.0" width="5.0" height="265.0" fill="rgb(133,133,133)"/></g></g><line x1="582.7" y1="2662.6" x2="701.5" y2="2662.6" stroke="#111" stroke-width="2.6" stroke-opacity="0.8"/><line x1="582.7" y1="2930.2" x2="701.5" y2="2930.2" stroke="#111" stroke-width="2.6" stroke-opacity="0.8"/>
<g stroke="#000" stroke-width="6.5" fill="none"><polyline points="1240,2138 1321.5,2138 1321.5,2212"/></g>
<polygon points="1193.3,2138.5 1247.5,2122 1241,2138.5 1247.5,2156" fill="#000"/>
<polygon points="1321.5,2253 1304.5,2200.5 1321.5,2210 1337,2200.5" fill="#000"/>
<text transform="translate(52.2 71.7) scale(0.838 1)" font-family="Liberation Sans" font-style="normal" font-size="84.9" fill="#000">a</text>
<text transform="translate(145.8 116.8) scale(0.929 1)" font-family="Liberation Sans" font-style="normal" font-size="87.1" fill="#2b0cab">0.5</text>
<text transform="translate(149.0 382.0) scale(0.919 1)" font-family="Liberation Sans" font-style="normal" font-size="81.4" fill="#4d4d4f">0.5</text>
<text transform="translate(148.8 669.0) scale(0.960 1)" font-family="Liberation Sans" font-style="normal" font-size="84.3" fill="#00a0e6">0.5</text>
<text transform="translate(199.8 880.0) scale(0.981 1)" font-family="Liberation Sans" font-style="normal" font-size="82.9" fill="#4d4d4f">0</text>
<text transform="translate(416.6 938.5) scale(0.992 1)" font-family="Liberation Sans" font-style="normal" font-size="87.1" fill="#4d4d4f">4</text>
<text transform="translate(697.1 938.5) scale(1.048 1)" font-family="Liberation Sans" font-style="normal" font-size="87.1" fill="#4d4d4f">6</text>
<text transform="translate(980.4 938.5) scale(1.003 1)" font-family="Liberation Sans" font-style="normal" font-size="87.1" fill="#4d4d4f">8</text>
<text transform="translate(1252.7 938.5) scale(0.974 1)" font-family="Liberation Sans" font-style="normal" font-size="87.1" fill="#4d4d4f">10</text>
<text transform="translate(1541.6 938.5) scale(0.972 1)" font-family="Liberation Sans" font-style="normal" font-size="87.1" fill="#4d4d4f">12</text>
<text transform="translate(1806.2 938.5) scale(0.936 1)" font-family="Liberation Sans" font-style="normal" font-size="87.1" fill="#4d4d4f">14</text>
<text transform="translate(2089.3 938.5) scale(1.003 1)" font-family="Liberation Sans" font-style="normal" font-size="87.1" fill="#4d4d4f">16</text>
<text transform="translate(858.7 1027.8) scale(0.969 1)" font-family="Liberation Sans" font-style="normal" font-size="89.9" fill="#4d4d4f">Wavelength [</text>
<text transform="translate(1376.0 1028.0) scale(1.122 1)" font-family="Liberation Serif" font-style="italic" font-size="91.0" fill="#000" stroke="#fff" stroke-width="1.2">μ</text>
<text transform="translate(1426.4 1027.8) scale(1.049 1)" font-family="Liberation Sans" font-style="normal" font-size="89.9" fill="#4d4d4f">m]</text>
<text transform="translate(649.6 155.6) scale(0.872 1)" font-family="Liberation Sans" font-style="normal" font-size="76.8" fill="#23339a">EM-CR-2</text>
<text transform="translate(1697.8 196.7) scale(0.873 1)" font-family="Liberation Sans" font-style="normal" font-size="73.9" fill="#23339a">EM-CR-1</text>
<text transform="translate(612.5 460.6) scale(0.877 1)" font-family="Liberation Sans" font-style="normal" font-size="75.4" fill="#000">EMR</text>
<text transform="translate(1061.1 424.7) scale(0.877 1)" font-family="Liberation Sans" font-style="normal" font-size="73.9" fill="#000">EM-CR-1</text>
<text transform="translate(603.2 679.3) scale(0.861 1)" font-family="Liberation Sans" font-style="normal" font-size="76.8" fill="#0097a8">EMR</text>
<text transform="translate(1185.9 140.0) scale(1.048 1)" font-family="Liberation Sans" font-style="normal" font-size="89.7" fill="#2b0cab">d</text>
<text transform="translate(1241.7 150.0) scale(1.102 1)" font-family="Liberation Sans" font-style="normal" font-size="55.0" fill="#5a14f0">y</text>
<text transform="translate(1296.2 145.0) scale(1.122 1)" font-family="Liberation Sans" font-style="normal" font-size="86.0" fill="#2b0cab">=</text>
<text transform="translate(1374.5 140.0) scale(0.952 1)" font-family="Liberation Sans" font-style="normal" font-size="84.9" fill="#2b0cab">15</text>
<text transform="translate(1470.5 137.0) scale(1.252 1)" font-family="Liberation Serif" font-style="italic" font-size="70.0" fill="#2b0cab" stroke="#fff" stroke-width="1.2">μ</text>
<text transform="translate(1513.8 140.0) scale(1.050 1)" font-family="Liberation Sans" font-style="normal" font-size="70.8" fill="#2b0cab">m</text>
<text transform="translate(1735.6 441.0) scale(1.072 1)" font-family="Liberation Sans" font-style="normal" font-size="87.7" fill="#231f20">d</text>
<text transform="translate(1790.0 451.0) scale(1.115 1)" font-family="Liberation Sans" font-style="normal" font-size="52.0" fill="#231f20">y</text>
<text transform="translate(1824.9 446.0) scale(1.187 1)" font-family="Liberation Sans" font-style="normal" font-size="86.0" fill="#231f20">=</text>
<text transform="translate(1901.5 441.0) scale(1.018 1)" font-family="Liberation Sans" font-style="normal" font-size="85.7" fill="#231f20">8</text>
<text transform="translate(1967.0 434.4) scale(1.203 1)" font-family="Liberation Serif" font-style="italic" font-size="72.5" fill="#000" stroke="#fff" stroke-width="1.2">μ</text>
<text transform="translate(2014.8 441.0) scale(1.050 1)" font-family="Liberation Sans" font-style="normal" font-size="70.8" fill="#231f20">m</text>
<text transform="translate(1687.0 751.3) scale(1.081 1)" font-family="Liberation Sans" font-style="normal" font-size="89.6" fill="#00a0e6">d</text>
<text transform="translate(1749.5 761.3) scale(1.150 1)" font-family="Liberation Sans" font-style="normal" font-size="52.0" fill="#00a0e6">y</text>
<text transform="translate(1797.6 756.3) scale(1.163 1)" font-family="Liberation Sans" font-style="normal" font-size="86.0" fill="#00a0e6">=</text>
<text transform="translate(1873.5 751.3) scale(0.921 1)" font-family="Liberation Sans" font-style="normal" font-size="87.6" fill="#00a0e6">2.5</text>
<text transform="translate(1999.9 748.3) scale(1.157 1)" font-family="Liberation Serif" font-style="italic" font-size="73.0" fill="#00a0e6" stroke="#fff" stroke-width="1.2">μ</text>
<text transform="translate(2043.6 751.3) scale(1.091 1)" font-family="Liberation Sans" font-style="normal" font-size="69.8" fill="#00a0e6">m</text>
<text transform="translate(48.8 1195.0) scale(1.062 1)" font-family="Liberation Sans" font-style="normal" font-size="90.4" fill="#000">b</text>
<text transform="translate(407.3 1195.4) scale(0.849 1)" font-family="Liberation Sans" font-style="normal" font-size="77.4" fill="#000">EMR</text>
<text transform="translate(1033.2 1193.2) scale(0.897 1)" font-family="Liberation Sans" font-style="normal" font-size="75.4" fill="#000">EM-CR-2</text>
<text transform="translate(1727.3 1193.2) scale(0.868 1)" font-family="Liberation Sans" font-style="normal" font-size="75.4" fill="#000">EM-CR-1</text>
<text transform="translate(253.6 1298.0) scale(0.831 1)" font-family="Liberation Sans" font-style="normal" font-size="77.7" fill="#4d4d4f">Ex</text>
<text transform="translate(612.4 1298.0) scale(0.845 1)" font-family="Liberation Sans" font-style="normal" font-size="77.7" fill="#4d4d4f">Ez</text>
<text transform="translate(953.5 1298.0) scale(0.837 1)" font-family="Liberation Sans" font-style="normal" font-size="77.7" fill="#4d4d4f">Ex</text>
<text transform="translate(1301.3 1298.0) scale(0.808 1)" font-family="Liberation Sans" font-style="normal" font-size="77.7" fill="#4d4d4f">Ez</text>
<text transform="translate(1669.5 1298.0) scale(0.800 1)" font-family="Liberation Sans" font-style="normal" font-size="77.7" fill="#4d4d4f">Ex</text>
<text transform="translate(2006.9 1298.0) scale(0.826 1)" font-family="Liberation Sans" font-style="normal" font-size="77.7" fill="#4d4d4f">Ez</text>
<text transform="translate(59.2 1401.8) scale(1.048 1)" font-family="Liberation Sans" font-style="normal" font-size="89.7" fill="#2b0cab">d</text>
<text transform="translate(115.0 1411.8) scale(1.102 1)" font-family="Liberation Sans" font-style="normal" font-size="55.0" fill="#5a14f0">y</text>
<text transform="translate(169.5 1406.8) scale(1.122 1)" font-family="Liberation Sans" font-style="normal" font-size="86.0" fill="#2b0cab">=</text>
<text transform="translate(247.8 1401.8) scale(0.952 1)" font-family="Liberation Sans" font-style="normal" font-size="84.9" fill="#2b0cab">15</text>
<text transform="translate(343.8 1398.8) scale(1.252 1)" font-family="Liberation Serif" font-style="italic" font-size="70.0" fill="#2b0cab" stroke="#fff" stroke-width="1.2">μ</text>
<text transform="translate(387.1 1401.8) scale(1.050 1)" font-family="Liberation Sans" font-style="normal" font-size="70.8" fill="#2b0cab">m</text>
<text transform="translate(44.2 1854.0) scale(1.072 1)" font-family="Liberation Sans" font-style="normal" font-size="87.7" fill="#231f20">d</text>
<text transform="translate(98.6 1864.0) scale(1.115 1)" font-family="Liberation Sans" font-style="normal" font-size="52.0" fill="#231f20">y</text>
<text transform="translate(133.5 1859.0) scale(1.187 1)" font-family="Liberation Sans" font-style="normal" font-size="86.0" fill="#231f20">=</text>
<text transform="translate(210.1 1854.0) scale(1.018 1)" font-family="Liberation Sans" font-style="normal" font-size="85.7" fill="#231f20">8</text>
<text transform="translate(275.6 1847.4) scale(1.203 1)" font-family="Liberation Serif" font-style="italic" font-size="72.5" fill="#000" stroke="#fff" stroke-width="1.2">μ</text>
<text transform="translate(323.4 1854.0) scale(1.050 1)" font-family="Liberation Sans" font-style="normal" font-size="70.8" fill="#231f20">m</text>
<text transform="translate(32.4 2503.0) scale(1.081 1)" font-family="Liberation Sans" font-style="normal" font-size="89.6" fill="#00a0e6">d</text>
<text transform="translate(94.9 2513.0) scale(1.150 1)" font-family="Liberation Sans" font-style="normal" font-size="52.0" fill="#00a0e6">y</text>
<text transform="translate(143.0 2508.0) scale(1.163 1)" font-family="Liberation Sans" font-style="normal" font-size="86.0" fill="#00a0e6">=</text>
<text transform="translate(218.9 2503.0) scale(0.921 1)" font-family="Liberation Sans" font-style="normal" font-size="87.6" fill="#00a0e6">2.5</text>
<text transform="translate(345.3 2500.0) scale(1.157 1)" font-family="Liberation Serif" font-style="italic" font-size="73.0" fill="#00a0e6" stroke="#fff" stroke-width="1.2">μ</text>
<text transform="translate(389.0 2503.0) scale(1.091 1)" font-family="Liberation Sans" font-style="normal" font-size="69.8" fill="#00a0e6">m</text>
<text transform="translate(1201.6 2102.0) scale(0.909 1)" font-family="Liberation Sans" font-style="italic" font-size="71.0" fill="#000">x</text>
<text transform="translate(1362.2 2257.4) scale(0.854 1)" font-family="Liberation Sans" font-style="italic" font-size="71.0" fill="#000">z</text>
</svg></body></html>
